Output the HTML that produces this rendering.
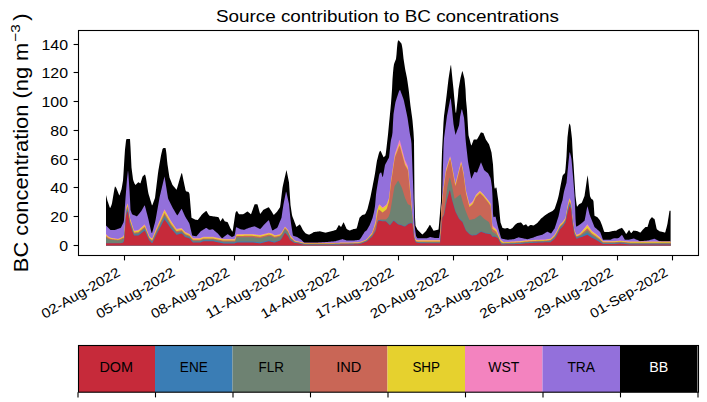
<!DOCTYPE html>
<html><head><meta charset="utf-8"><style>
html,body{margin:0;padding:0;background:#fff;}
svg{display:block;}
text{font-family:"Liberation Sans",sans-serif;}
.tk{font-size:13.89px;}
.xt{font-size:13.6px;}
</style></head><body>
<svg width="707" height="402" viewBox="0 0 707 402">
<rect width="707" height="402" fill="#fff"/>
<g shape-rendering="auto">
<path fill="#000000" d="M106.0,245.5 L106.0,194.90 106.5,196.90 107.0,198.90 107.5,200.90 108.0,202.34 108.5,203.78 109.0,205.23 109.5,206.67 110.0,208.11 110.5,207.40 111.0,206.15 111.5,204.90 112.0,203.30 112.5,200.32 113.0,197.34 113.5,194.35 114.0,191.37 114.5,188.39 115.0,186.15 115.5,186.88 116.0,187.61 116.5,188.45 117.0,189.70 117.5,190.95 118.0,192.20 118.5,193.45 119.0,194.70 119.5,195.40 120.0,193.87 120.5,192.35 121.0,190.83 121.5,189.30 122.0,186.60 122.5,183.60 123.0,180.60 123.5,173.42 124.0,165.20 124.5,156.98 125.0,149.52 125.5,145.14 126.0,140.75 126.5,139.00 127.0,139.00 127.5,139.00 128.0,139.00 128.5,139.00 129.0,139.00 129.5,139.00 130.0,139.00 130.5,147.14 131.0,157.43 131.5,167.58 132.0,171.46 132.5,175.34 133.0,179.22 133.5,181.02 134.0,182.28 134.5,183.45 135.0,184.23 135.5,185.00 136.0,184.48 136.5,183.96 137.0,183.45 137.5,182.93 138.0,182.41 138.5,182.23 139.0,182.57 139.5,182.90 140.0,183.23 140.5,183.18 141.0,181.56 141.5,179.95 142.0,178.34 142.5,176.72 143.0,176.06 143.5,175.64 144.0,175.22 144.5,174.80 145.0,174.38 145.5,176.02 146.0,178.17 146.5,181.29 147.0,184.64 147.5,188.00 148.0,191.36 148.5,193.71 149.0,195.39 149.5,197.07 150.0,198.75 150.5,200.43 151.0,202.11 151.5,203.78 152.0,205.46 152.5,204.72 153.0,203.38 153.5,202.03 154.0,200.69 154.5,199.34 155.0,198.00 155.5,193.86 156.0,189.72 156.5,185.58 157.0,181.44 157.5,177.30 158.0,173.16 158.5,169.79 159.0,166.93 159.5,164.07 160.0,161.21 160.5,158.36 161.0,155.50 161.5,153.33 162.0,151.17 162.5,149.00 163.0,148.38 163.5,148.00 164.0,148.00 164.5,148.00 165.0,148.00 165.5,148.00 166.0,150.50 166.5,154.31 167.0,160.09 167.5,164.43 168.0,167.82 168.5,171.20 169.0,174.59 169.5,177.55 170.0,178.80 170.5,180.05 171.0,181.30 171.5,182.55 172.0,183.80 172.5,184.92 173.0,185.53 173.5,186.14 174.0,186.74 174.5,187.35 175.0,187.96 175.5,188.56 176.0,189.17 176.5,189.78 177.0,188.49 177.5,186.72 178.0,184.95 178.5,183.18 179.0,181.41 179.5,179.68 180.0,178.05 180.5,176.43 181.0,174.80 181.5,173.18 182.0,173.17 182.5,175.59 183.0,178.01 183.5,180.43 184.0,182.81 184.5,185.17 185.0,187.53 185.5,189.89 186.0,191.35 186.5,191.47 187.0,191.59 187.5,191.71 188.0,191.83 188.5,191.95 189.0,192.71 189.5,193.90 190.0,199.85 190.5,205.80 191.0,211.75 191.5,217.70 192.0,217.96 192.5,218.21 193.0,218.47 193.5,218.73 194.0,218.98 194.5,219.24 195.0,219.49 195.5,219.71 196.0,219.77 196.5,219.84 197.0,219.90 197.5,219.96 198.0,219.73 198.5,219.07 199.0,218.41 199.5,217.75 200.0,217.08 200.5,216.42 201.0,215.76 201.5,215.10 202.0,214.43 202.5,213.96 203.0,213.53 203.5,213.10 204.0,212.67 204.5,212.24 205.0,211.81 205.5,211.39 206.0,210.96 206.5,211.04 207.0,211.91 207.5,212.77 208.0,213.63 208.5,214.49 209.0,215.36 209.5,215.75 210.0,215.83 210.5,215.92 211.0,216.00 211.5,216.08 212.0,216.17 212.5,216.25 213.0,216.33 213.5,216.41 214.0,216.48 214.5,216.55 215.0,216.62 215.5,216.69 216.0,216.76 216.5,216.83 217.0,216.90 217.5,216.97 218.0,217.04 218.5,217.30 219.0,218.33 219.5,219.35 220.0,220.38 220.5,221.40 221.0,220.58 221.5,219.76 222.0,218.95 222.5,218.13 223.0,218.31 223.5,219.17 224.0,220.03 224.5,220.89 225.0,221.45 225.5,221.57 226.0,221.70 226.5,221.82 227.0,221.95 227.5,222.07 228.0,222.98 228.5,224.09 229.0,225.19 229.5,226.29 230.0,227.40 230.5,228.50 231.0,229.33 231.5,230.17 232.0,231.00 232.5,231.83 233.0,229.27 233.5,225.86 234.0,222.45 234.5,219.04 235.0,215.63 235.5,212.74 236.0,211.96 236.5,211.17 237.0,211.03 237.5,211.85 238.0,212.66 238.5,213.48 239.0,214.30 239.5,214.30 240.0,214.30 240.5,214.30 241.0,214.30 241.5,214.30 242.0,214.30 242.5,214.30 243.0,214.30 243.5,214.10 244.0,213.76 244.5,213.42 245.0,213.09 245.5,212.75 246.0,212.41 246.5,212.07 247.0,211.74 247.5,211.40 248.0,211.81 248.5,212.23 249.0,212.64 249.5,213.06 250.0,213.47 250.5,213.89 251.0,214.30 251.5,212.91 252.0,211.52 252.5,210.13 253.0,208.74 253.5,207.36 254.0,205.97 254.5,204.58 255.0,204.27 255.5,204.24 256.0,204.20 256.5,204.16 257.0,204.13 257.5,204.46 258.0,206.29 258.5,208.11 259.0,209.93 259.5,211.75 260.0,213.57 260.5,213.86 261.0,213.11 261.5,212.37 262.0,211.63 262.5,210.89 263.0,210.15 263.5,209.80 264.0,209.56 264.5,209.31 265.0,209.07 265.5,208.82 266.0,208.58 266.5,208.33 267.0,208.08 267.5,207.84 268.0,207.59 268.5,207.35 269.0,207.50 269.5,208.25 270.0,209.00 270.5,209.75 271.0,210.50 271.5,211.25 272.0,212.09 272.5,212.94 273.0,213.80 273.5,214.66 274.0,214.70 274.5,214.20 275.0,213.70 275.5,213.20 276.0,212.70 276.5,212.20 277.0,211.70 277.5,211.10 278.0,210.35 278.5,209.60 279.0,208.85 279.5,208.10 280.0,207.35 280.5,203.95 281.0,199.89 281.5,195.83 282.0,191.77 282.5,187.71 283.0,185.16 283.5,182.98 284.0,180.80 284.5,178.62 285.0,176.44 285.5,174.26 286.0,172.08 286.5,169.90 287.0,172.44 287.5,174.98 288.0,177.52 288.5,180.06 289.0,182.60 289.5,190.07 290.0,197.53 290.5,205.00 291.0,208.34 291.5,211.69 292.0,215.03 292.5,216.74 293.0,218.03 293.5,219.33 294.0,220.62 294.5,221.93 295.0,223.27 295.5,224.60 296.0,225.93 296.5,226.92 297.0,226.52 297.5,226.12 298.0,225.72 298.5,225.32 299.0,224.92 299.5,224.52 300.0,224.40 300.5,225.38 301.0,226.36 301.5,227.34 302.0,228.33 302.5,229.31 303.0,230.15 303.5,230.77 304.0,231.40 304.5,232.02 305.0,232.65 305.5,233.27 306.0,233.56 306.5,233.76 307.0,233.96 307.5,234.16 308.0,234.36 308.5,234.56 309.0,234.76 309.5,234.58 310.0,234.30 310.5,234.02 311.0,233.74 311.5,233.46 312.0,233.18 312.5,232.90 313.0,232.62 313.5,232.34 314.0,232.06 314.5,231.95 315.0,231.89 315.5,231.83 316.0,231.77 316.5,231.71 317.0,231.64 317.5,231.58 318.0,231.52 318.5,231.46 319.0,231.40 319.5,231.34 320.0,231.35 320.5,231.47 321.0,231.59 321.5,231.72 322.0,231.84 322.5,231.96 323.0,232.09 323.5,232.21 324.0,232.33 324.5,232.45 325.0,232.58 325.5,232.70 326.0,232.57 326.5,232.45 327.0,232.32 327.5,232.20 328.0,232.07 328.5,231.95 329.0,231.83 329.5,231.70 330.0,231.58 330.5,231.45 331.0,231.33 331.5,231.19 332.0,231.05 332.5,230.91 333.0,230.77 333.5,230.63 334.0,230.49 334.5,230.35 335.0,230.21 335.5,230.07 336.0,229.93 336.5,229.19 337.0,228.29 337.5,227.40 338.0,226.51 338.5,225.61 339.0,225.00 339.5,225.47 340.0,225.95 340.5,226.43 341.0,226.90 341.5,226.22 342.0,225.24 342.5,224.26 343.0,223.28 343.5,222.30 344.0,223.02 344.5,224.16 345.0,225.31 345.5,226.45 346.0,227.60 346.5,228.74 347.0,229.34 347.5,229.59 348.0,229.83 348.5,230.07 349.0,230.31 349.5,230.55 350.0,230.44 350.5,230.24 351.0,230.04 351.5,229.84 352.0,229.64 352.5,229.44 353.0,229.24 353.5,229.12 354.0,229.03 354.5,228.93 355.0,228.83 355.5,228.73 356.0,228.64 356.5,228.54 357.0,227.35 357.5,225.44 358.0,223.53 358.5,221.62 359.0,219.71 359.5,217.80 360.0,217.30 360.5,216.80 361.0,216.30 361.5,215.80 362.0,215.30 362.5,214.95 363.0,214.83 363.5,214.71 364.0,214.59 364.5,214.47 365.0,214.35 365.5,213.61 366.0,212.46 366.5,211.30 367.0,210.15 367.5,209.00 368.0,207.02 368.5,205.04 369.0,203.06 369.5,201.08 370.0,199.10 370.5,196.73 371.0,194.27 371.5,191.79 372.0,189.21 372.5,186.64 373.0,184.06 373.5,181.49 374.0,178.92 374.5,176.34 375.0,173.48 375.5,170.17 376.0,166.86 376.5,163.55 377.0,160.52 377.5,158.63 378.0,156.74 378.5,154.85 379.0,152.96 379.5,151.77 380.0,151.07 380.5,150.72 381.0,151.79 381.5,152.87 382.0,153.95 382.5,155.03 383.0,156.11 383.5,157.18 384.0,157.02 384.5,156.55 385.0,156.07 385.5,155.60 386.0,152.00 386.5,147.63 387.0,143.25 387.5,138.88 388.0,134.50 388.5,129.29 389.0,124.08 389.5,118.95 390.0,113.86 390.5,108.77 391.0,103.35 391.5,96.57 392.0,89.80 392.5,79.30 393.0,72.80 393.5,67.60 394.0,64.35 394.5,62.69 395.0,61.43 395.5,60.17 396.0,58.90 396.5,54.50 397.0,48.00 397.5,43.06 398.0,40.87 398.5,40.30 399.0,40.80 399.5,41.30 400.0,41.80 400.5,42.43 401.0,43.07 401.5,43.70 402.0,46.09 402.5,48.95 403.0,53.67 403.5,58.40 404.0,61.68 404.5,64.96 405.0,68.24 405.5,70.88 406.0,73.36 406.5,75.83 407.0,78.31 407.5,81.40 408.0,84.90 408.5,88.40 409.0,92.58 409.5,97.20 410.0,101.82 410.5,106.03 411.0,109.60 411.5,113.17 412.0,116.74 412.5,120.75 413.0,126.48 413.5,132.21 414.0,141.00 414.5,197.78 415.0,217.22 415.5,225.63 416.0,226.67 416.5,227.72 417.0,228.76 417.5,229.70 418.0,230.20 418.5,230.70 419.0,231.20 419.5,231.70 420.0,232.20 420.5,232.70 421.0,233.20 421.5,233.70 422.0,234.20 422.5,234.50 423.0,234.00 423.5,233.50 424.0,233.00 424.5,232.50 425.0,232.00 425.5,231.50 426.0,231.00 426.5,230.18 427.0,229.36 427.5,228.54 428.0,227.72 428.5,226.90 429.0,226.08 429.5,225.26 430.0,224.77 430.5,225.61 431.0,226.44 431.5,227.28 432.0,228.12 432.5,228.96 433.0,229.79 433.5,230.63 434.0,230.70 434.5,230.58 435.0,230.46 435.5,230.34 436.0,230.22 436.5,230.10 437.0,229.98 437.5,229.86 438.0,229.74 438.5,229.62 439.0,224.83 439.5,218.87 440.0,212.91 440.5,206.95 441.0,200.99 441.5,167.64 442.0,151.77 442.5,141.99 443.0,132.20 443.5,122.41 444.0,116.11 444.5,112.13 445.0,108.14 445.5,104.16 446.0,100.18 446.5,96.19 447.0,91.98 447.5,87.62 448.0,83.26 448.5,78.90 449.0,75.73 449.5,72.57 450.0,69.40 450.5,66.23 451.0,64.71 451.5,69.78 452.0,74.85 452.5,79.85 453.0,84.57 453.5,89.30 454.0,95.00 454.5,100.56 455.0,106.11 455.5,111.67 456.0,113.26 456.5,108.91 457.0,104.57 457.5,100.22 458.0,95.87 458.5,89.30 459.0,86.41 459.5,83.52 460.0,80.63 460.5,78.10 461.0,76.10 461.5,74.10 462.0,72.10 462.5,70.90 463.0,72.90 463.5,74.90 464.0,76.90 464.5,78.90 465.0,84.10 465.5,89.30 466.0,99.80 466.5,105.05 467.0,110.30 467.5,119.09 468.0,127.87 468.5,135.28 469.0,137.20 469.5,139.11 470.0,141.02 470.5,142.94 471.0,144.85 471.5,145.46 472.0,144.10 472.5,142.75 473.0,141.40 473.5,140.04 474.0,139.50 474.5,139.50 475.0,139.50 475.5,139.50 476.0,139.50 476.5,139.50 477.0,139.50 477.5,138.60 478.0,137.70 478.5,136.80 479.0,135.90 479.5,135.00 480.0,134.10 480.5,133.20 481.0,132.30 481.5,132.47 482.0,132.63 482.5,132.80 483.0,132.97 483.5,133.37 484.0,134.70 484.5,136.03 485.0,137.37 485.5,138.70 486.0,139.80 486.5,140.54 487.0,141.28 487.5,142.02 488.0,142.77 488.5,143.51 489.0,144.25 489.5,145.75 490.0,147.44 490.5,149.12 491.0,150.81 491.5,152.50 492.0,156.53 492.5,160.56 493.0,164.59 493.5,173.45 494.0,182.51 494.5,187.58 495.0,189.04 495.5,188.10 496.0,187.16 496.5,188.02 497.0,191.58 497.5,195.14 498.0,198.70 498.5,202.26 499.0,206.62 499.5,212.19 500.0,217.75 500.5,222.48 501.0,223.86 501.5,225.24 502.0,226.62 502.5,228.00 503.0,228.12 503.5,228.24 504.0,228.36 504.5,228.48 505.0,228.60 505.5,228.47 506.0,228.35 506.5,228.22 507.0,228.10 507.5,228.05 508.0,228.29 508.5,228.53 509.0,228.77 509.5,229.01 510.0,229.15 510.5,228.91 511.0,228.67 511.5,228.43 512.0,228.19 512.5,227.88 513.0,227.26 513.5,226.64 514.0,226.02 514.5,225.40 515.0,224.82 515.5,224.44 516.0,224.06 516.5,223.68 517.0,223.30 517.5,222.98 518.0,222.90 518.5,222.82 519.0,222.74 519.5,222.66 520.0,222.58 520.5,222.50 521.0,222.42 521.5,222.90 522.0,223.52 522.5,224.14 523.0,224.76 523.5,225.38 524.0,225.29 524.5,225.03 525.0,224.77 525.5,224.51 526.0,224.25 526.5,224.73 527.0,225.38 527.5,226.04 528.0,226.70 528.5,226.32 529.0,225.95 529.5,225.57 530.0,225.20 530.5,224.92 531.0,225.01 531.5,225.11 532.0,225.20 532.5,225.29 533.0,225.39 533.5,225.48 534.0,225.23 534.5,224.89 535.0,224.55 535.5,224.22 536.0,223.88 536.5,223.54 537.0,223.20 537.5,222.76 538.0,222.17 538.5,221.57 539.0,220.98 539.5,220.38 540.0,219.79 540.5,219.19 541.0,218.60 541.5,218.19 542.0,217.78 542.5,217.38 543.0,216.97 543.5,216.56 544.0,216.15 544.5,215.74 545.0,215.36 545.5,215.03 546.0,214.69 546.5,214.35 547.0,214.01 547.5,213.68 548.0,213.34 548.5,213.00 549.0,212.76 549.5,212.51 550.0,212.27 550.5,212.03 551.0,211.78 551.5,211.54 552.0,211.30 552.5,210.90 553.0,210.40 553.5,209.90 554.0,209.40 554.5,208.90 555.0,207.80 555.5,206.30 556.0,204.80 556.5,203.30 557.0,201.80 557.5,200.09 558.0,198.23 558.5,196.37 559.0,193.91 559.5,191.29 560.0,188.68 560.5,186.06 561.0,183.45 561.5,180.92 562.0,178.46 562.5,175.99 563.0,175.08 563.5,174.57 564.0,174.05 564.5,173.53 565.0,173.01 565.5,168.99 566.0,162.63 566.5,156.27 567.0,145.80 567.5,137.18 568.0,132.88 568.5,128.58 569.0,125.25 569.5,123.38 570.0,124.33 570.5,126.00 571.0,130.30 571.5,134.60 572.0,138.90 572.5,148.96 573.0,157.50 573.5,163.75 574.0,172.00 574.5,180.25 575.0,188.18 575.5,196.10 576.0,199.99 576.5,203.89 577.0,206.87 577.5,206.23 578.0,205.59 578.5,204.94 579.0,204.30 579.5,204.06 580.0,203.82 580.5,203.58 581.0,203.34 581.5,203.10 582.0,202.26 582.5,201.03 583.0,199.80 583.5,198.56 584.0,197.33 584.5,196.10 585.0,192.62 585.5,189.13 586.0,185.65 586.5,182.16 587.0,178.68 587.5,175.20 588.0,178.10 588.5,182.60 589.0,187.10 589.5,191.60 590.0,196.10 590.5,197.14 591.0,198.18 591.5,198.93 592.0,199.27 592.5,199.60 593.0,199.93 593.5,201.61 594.0,208.65 594.5,215.70 595.0,215.95 595.5,216.20 596.0,216.45 596.5,216.70 597.0,216.95 597.5,217.35 598.0,217.97 598.5,218.59 599.0,219.21 599.5,219.83 600.0,220.45 600.5,221.47 601.0,222.76 601.5,224.05 602.0,225.34 602.5,226.76 603.0,228.22 603.5,229.67 604.0,231.13 604.5,232.00 605.0,232.00 605.5,232.00 606.0,232.00 606.5,232.00 607.0,232.00 607.5,232.00 608.0,232.00 608.5,232.00 609.0,231.88 609.5,231.77 610.0,231.65 610.5,231.53 611.0,231.42 611.5,231.30 612.0,231.19 612.5,231.07 613.0,230.98 613.5,230.92 614.0,230.86 614.5,230.81 615.0,230.75 615.5,230.69 616.0,230.63 616.5,230.47 617.0,230.13 617.5,229.80 618.0,229.47 618.5,229.16 619.0,228.97 619.5,228.77 620.0,228.58 620.5,228.38 621.0,228.19 621.5,227.99 622.0,227.80 622.5,228.47 623.0,229.13 623.5,229.80 624.0,230.47 624.5,231.27 625.0,232.10 625.5,232.93 626.0,233.77 626.5,233.67 627.0,232.94 627.5,232.22 628.0,231.49 628.5,230.77 629.0,230.04 629.5,230.57 630.0,231.40 630.5,232.23 631.0,233.07 631.5,233.00 632.0,232.33 632.5,231.67 633.0,231.00 633.5,230.62 634.0,230.68 634.5,230.73 635.0,230.79 635.5,230.84 636.0,230.90 636.5,230.96 637.0,231.05 637.5,231.29 638.0,231.53 638.5,231.78 639.0,232.02 639.5,232.26 640.0,232.51 640.5,232.57 641.0,231.94 641.5,231.30 642.0,230.66 642.5,230.03 643.0,229.49 643.5,228.97 644.0,228.45 644.5,227.93 645.0,227.41 645.5,227.00 646.0,227.00 646.5,227.00 647.0,227.00 647.5,227.00 648.0,225.33 648.5,223.67 649.0,222.00 649.5,220.33 650.0,219.47 650.5,218.81 651.0,218.15 651.5,217.50 652.0,217.25 652.5,217.62 653.0,218.00 653.5,218.38 654.0,218.75 654.5,219.12 655.0,221.10 655.5,223.49 656.0,225.87 656.5,228.25 657.0,229.42 657.5,229.78 658.0,230.14 658.5,230.50 659.0,230.87 659.5,231.23 660.0,231.38 660.5,231.48 661.0,231.58 661.5,231.68 662.0,231.78 662.5,231.88 663.0,231.98 663.5,232.13 664.0,232.30 664.5,232.47 665.0,232.63 665.5,231.54 666.0,229.61 666.5,227.68 667.0,225.75 667.5,223.56 668.0,220.34 668.5,217.13 669.0,213.91 669.5,210.70 670.0,210.70 670.5,210.70 670.6,210.70 L670.6,245.5 Z"/>
<path fill="#9370db" d="M106.0,245.5 L106.0,225.50 106.5,226.01 107.0,226.52 107.5,227.03 108.0,227.55 108.5,228.06 109.0,228.57 109.5,229.08 110.0,229.59 110.5,230.00 111.0,230.00 111.5,230.00 112.0,230.00 112.5,230.00 113.0,230.00 113.5,230.00 114.0,230.00 114.5,230.00 115.0,229.96 115.5,229.78 116.0,229.60 116.5,229.41 117.0,229.23 117.5,229.05 118.0,228.86 118.5,228.68 119.0,228.50 119.5,228.31 120.0,228.13 120.5,227.95 121.0,227.60 121.5,226.60 122.0,225.60 122.5,224.60 123.0,223.60 123.5,222.60 124.0,220.31 124.5,212.84 125.0,205.37 125.5,198.11 126.0,191.64 126.5,185.17 127.0,179.11 127.5,174.65 128.0,170.19 128.5,175.35 129.0,182.91 129.5,190.46 130.0,199.29 130.5,210.00 131.0,211.34 131.5,212.69 132.0,214.03 132.5,214.48 133.0,214.69 133.5,214.91 134.0,215.13 134.5,215.35 135.0,215.57 135.5,215.79 136.0,216.01 136.5,216.22 137.0,216.28 137.5,215.69 138.0,215.09 138.5,214.50 139.0,213.90 139.5,213.30 140.0,212.71 140.5,212.11 141.0,211.52 141.5,210.69 142.0,209.80 142.5,208.91 143.0,208.02 143.5,207.13 144.0,206.24 144.5,205.36 145.0,206.16 145.5,208.09 146.0,210.01 146.5,211.94 147.0,213.87 147.5,215.80 148.0,217.73 148.5,219.80 149.0,221.97 149.5,224.13 150.0,226.30 150.5,228.47 151.0,230.63 151.5,232.80 152.0,233.37 152.5,231.56 153.0,229.75 153.5,227.93 154.0,226.12 154.5,224.30 155.0,222.49 155.5,220.28 156.0,217.48 156.5,214.67 157.0,211.87 157.5,209.07 158.0,206.27 158.5,203.47 159.0,200.66 159.5,197.86 160.0,195.59 160.5,193.46 161.0,191.33 161.5,189.20 162.0,187.06 162.5,184.93 163.0,182.80 163.5,180.67 164.0,178.53 164.5,176.40 165.0,179.50 165.5,182.59 166.0,185.69 166.5,188.79 167.0,191.89 167.5,194.98 168.0,198.08 168.5,199.51 169.0,200.52 169.5,201.53 170.0,202.55 170.5,203.56 171.0,204.57 171.5,205.58 172.0,206.59 172.5,207.54 173.0,208.39 173.5,209.24 174.0,210.09 174.5,210.94 175.0,211.79 175.5,212.64 176.0,213.49 176.5,214.34 177.0,215.19 177.5,215.37 178.0,214.54 178.5,213.72 179.0,212.89 179.5,212.07 180.0,211.24 180.5,210.42 181.0,209.59 181.5,208.77 182.0,209.49 182.5,210.61 183.0,211.72 183.5,212.83 184.0,213.95 184.5,215.06 185.0,216.18 185.5,217.06 186.0,217.89 186.5,218.71 187.0,219.54 187.5,220.36 188.0,221.19 188.5,222.01 189.0,222.84 189.5,223.93 190.0,226.09 190.5,228.25 191.0,230.41 191.5,232.58 192.0,234.74 192.5,235.65 193.0,235.73 193.5,235.81 194.0,235.89 194.5,235.97 195.0,236.06 195.5,236.14 196.0,236.22 196.5,236.30 197.0,235.70 197.5,235.11 198.0,234.51 198.5,233.92 199.0,233.32 199.5,232.73 200.0,232.13 200.5,231.54 201.0,231.11 201.5,230.80 202.0,230.49 202.5,230.18 203.0,229.86 203.5,229.55 204.0,229.24 204.5,228.93 205.0,228.61 205.5,228.30 206.0,227.99 206.5,227.94 207.0,228.31 207.5,228.67 208.0,229.03 208.5,229.39 209.0,229.76 209.5,229.84 210.0,229.74 210.5,229.64 211.0,229.54 211.5,229.44 212.0,229.34 212.5,229.24 213.0,229.45 213.5,229.87 214.0,230.29 214.5,230.71 215.0,231.13 215.5,231.55 216.0,231.97 216.5,232.39 217.0,232.81 217.5,233.23 218.0,233.75 218.5,234.33 219.0,234.91 219.5,235.49 220.0,236.07 220.5,236.66 221.0,237.24 221.5,237.82 222.0,238.40 222.5,238.02 223.0,237.63 223.5,237.25 224.0,236.86 224.5,236.48 225.0,236.10 225.5,235.71 226.0,235.33 226.5,234.94 227.0,234.56 227.5,234.18 228.0,234.37 228.5,234.71 229.0,235.04 229.5,235.38 230.0,235.72 230.5,236.06 231.0,236.39 231.5,236.73 232.0,236.95 232.5,236.70 233.0,236.45 233.5,236.20 234.0,235.95 234.5,235.70 235.0,233.76 235.5,230.69 236.0,227.61 236.5,227.20 237.0,227.46 237.5,227.72 238.0,227.97 238.5,228.23 239.0,228.48 239.5,228.74 240.0,229.00 240.5,229.22 241.0,229.32 241.5,229.42 242.0,229.52 242.5,229.62 243.0,229.72 243.5,229.82 244.0,229.86 244.5,229.65 245.0,229.44 245.5,229.23 246.0,229.02 246.5,228.81 247.0,228.60 247.5,228.39 248.0,228.18 248.5,227.97 249.0,227.77 249.5,227.64 250.0,227.51 250.5,227.38 251.0,227.25 251.5,227.12 252.0,226.98 252.5,226.85 253.0,226.72 253.5,226.59 254.0,226.46 254.5,226.33 255.0,226.51 255.5,226.77 256.0,227.03 256.5,227.28 257.0,227.54 257.5,227.80 258.0,228.06 258.5,228.32 259.0,228.58 259.5,228.84 260.0,229.10 260.5,228.85 261.0,228.27 261.5,227.69 262.0,227.11 262.5,226.53 263.0,225.94 263.5,225.36 264.0,224.78 264.5,224.20 265.0,223.71 265.5,223.22 266.0,222.73 266.5,222.25 267.0,221.76 267.5,221.27 268.0,220.78 268.5,220.29 269.0,220.61 269.5,222.12 270.0,223.63 270.5,225.15 271.0,226.66 271.5,228.18 272.0,229.69 272.5,230.49 273.0,230.21 273.5,229.93 274.0,229.65 274.5,229.37 275.0,229.09 275.5,228.81 276.0,228.53 276.5,228.25 277.0,227.97 277.5,227.32 278.0,226.13 278.5,224.94 279.0,223.75 279.5,222.56 280.0,221.37 280.5,220.18 281.0,218.99 281.5,217.80 282.0,214.33 282.5,210.86 283.0,207.38 283.5,204.29 284.0,201.75 284.5,199.21 285.0,196.68 285.5,194.14 286.0,191.61 286.5,192.87 287.0,195.07 287.5,197.28 288.0,199.49 288.5,201.69 289.0,203.90 289.5,209.05 290.0,214.19 290.5,219.34 291.0,223.34 291.5,226.56 292.0,229.79 292.5,233.02 293.0,235.63 293.5,235.80 294.0,235.97 294.5,236.13 295.0,236.30 295.5,236.47 296.0,236.63 296.5,236.80 297.0,236.97 297.5,237.27 298.0,237.60 298.5,237.93 299.0,238.27 299.5,238.60 300.0,238.93 300.5,239.27 301.0,239.60 301.5,239.99 302.0,240.48 302.5,240.96 303.0,241.44 303.5,241.92 304.0,242.41 304.5,242.63 305.0,242.69 305.5,242.75 306.0,242.80 306.5,242.80 307.0,242.80 307.5,242.80 308.0,242.80 308.5,242.80 309.0,242.80 309.5,242.80 310.0,242.80 310.5,242.80 311.0,242.80 311.5,242.80 312.0,242.80 312.5,242.80 313.0,242.80 313.5,242.80 314.0,242.80 314.5,242.80 315.0,242.80 315.5,242.80 316.0,242.80 316.5,242.80 317.0,242.76 317.5,242.70 318.0,242.65 318.5,242.59 319.0,242.56 319.5,242.52 320.0,242.49 320.5,242.45 321.0,242.42 321.5,242.38 322.0,242.35 322.5,242.31 323.0,242.28 323.5,242.24 324.0,242.20 324.5,242.17 325.0,242.13 325.5,242.10 326.0,242.06 326.5,242.03 327.0,241.99 327.5,241.94 328.0,241.90 328.5,241.85 329.0,241.80 329.5,241.76 330.0,241.71 330.5,241.66 331.0,241.61 331.5,241.57 332.0,241.52 332.5,241.47 333.0,241.43 333.5,241.38 334.0,241.33 334.5,241.28 335.0,241.24 335.5,241.17 336.0,241.02 336.5,240.87 337.0,240.73 337.5,240.58 338.0,240.43 338.5,240.28 339.0,240.14 339.5,239.99 340.0,239.84 340.5,239.69 341.0,239.54 341.5,239.40 342.0,239.25 342.5,239.10 343.0,239.27 343.5,239.43 344.0,239.60 344.5,239.77 345.0,239.93 345.5,240.10 346.0,240.27 346.5,240.43 347.0,240.50 347.5,240.50 348.0,240.50 348.5,240.50 349.0,240.50 349.5,240.50 350.0,240.50 350.5,240.50 351.0,240.50 351.5,240.50 352.0,240.50 352.5,240.50 353.0,240.50 353.5,240.50 354.0,240.48 354.5,240.41 355.0,240.35 355.5,240.29 356.0,240.23 356.5,240.17 357.0,240.11 357.5,240.05 358.0,239.98 358.5,239.92 359.0,239.86 359.5,239.80 360.0,239.12 360.5,238.45 361.0,237.77 361.5,237.01 362.0,236.18 362.5,235.36 363.0,234.54 363.5,233.71 364.0,232.89 364.5,232.06 365.0,231.59 365.5,231.20 366.0,230.82 366.5,230.43 367.0,229.84 367.5,228.95 368.0,228.06 368.5,227.16 369.0,226.27 369.5,225.38 370.0,224.23 370.5,223.01 371.0,221.80 371.5,220.59 372.0,219.37 372.5,218.01 373.0,216.04 373.5,214.06 374.0,212.09 374.5,209.26 375.0,206.22 375.5,200.50 376.0,194.50 376.5,190.75 377.0,187.63 377.5,184.67 378.0,181.70 378.5,178.74 379.0,175.78 379.5,173.79 380.0,173.26 380.5,172.74 381.0,172.21 381.5,173.20 382.0,175.20 382.5,177.20 383.0,176.30 383.5,173.48 384.0,170.65 384.5,167.83 385.0,165.00 385.5,164.06 386.0,163.12 386.5,162.18 387.0,161.24 387.5,160.30 388.0,159.37 388.5,158.43 389.0,157.49 389.5,153.28 390.0,148.24 390.5,143.21 391.0,140.02 391.5,138.05 392.0,136.08 392.5,132.51 393.0,122.56 393.5,113.98 394.0,110.88 394.5,107.78 395.0,104.68 395.5,101.90 396.0,100.38 396.5,98.87 397.0,97.36 397.5,95.84 398.0,94.33 398.5,92.82 399.0,91.30 399.5,90.42 400.0,89.70 400.5,91.05 401.0,92.40 401.5,93.75 402.0,95.11 402.5,96.46 403.0,97.81 403.5,99.16 404.0,101.10 404.5,103.44 405.0,105.78 405.5,108.12 406.0,110.45 406.5,112.79 407.0,115.13 407.5,117.67 408.0,121.04 408.5,124.40 409.0,127.77 409.5,131.13 410.0,134.50 410.5,136.89 411.0,139.29 411.5,143.75 412.0,156.48 412.5,169.22 413.0,181.96 413.5,195.50 414.0,210.25 414.5,225.00 415.0,228.67 415.5,232.33 416.0,236.00 416.5,236.82 417.0,237.64 417.5,238.30 418.0,238.30 418.5,238.30 419.0,238.30 419.5,238.30 420.0,238.30 420.5,238.30 421.0,238.30 421.5,238.30 422.0,238.30 422.5,238.30 423.0,238.30 423.5,238.30 424.0,238.30 424.5,238.30 425.0,238.30 425.5,238.30 426.0,238.30 426.5,238.30 427.0,238.30 427.5,238.08 428.0,237.87 428.5,237.65 429.0,237.43 429.5,237.22 430.0,237.00 430.5,237.10 431.0,237.20 431.5,237.30 432.0,237.40 432.5,237.50 433.0,237.60 433.5,237.70 434.0,237.80 434.5,237.90 435.0,238.00 435.5,238.00 436.0,238.00 436.5,238.00 437.0,238.00 437.5,238.00 438.0,238.00 438.5,238.00 439.0,238.00 439.5,234.75 440.0,231.50 440.5,228.25 441.0,218.33 441.5,207.50 442.0,200.00 442.5,182.47 443.0,164.94 443.5,147.41 444.0,138.16 444.5,134.44 445.0,130.71 445.5,126.98 446.0,123.25 446.5,119.53 447.0,115.80 447.5,113.22 448.0,110.63 448.5,108.05 449.0,105.47 449.5,102.88 450.0,100.30 450.5,97.72 451.0,100.59 451.5,104.82 452.0,109.05 452.5,113.90 453.0,118.90 453.5,123.90 454.0,127.01 454.5,129.64 455.0,132.27 455.5,134.90 456.0,133.55 456.5,132.20 457.0,130.85 457.5,129.49 458.0,128.14 458.5,126.79 459.0,125.44 459.5,121.69 460.0,116.93 460.5,114.56 461.0,112.19 461.5,109.82 462.0,109.24 462.5,111.35 463.0,113.45 463.5,115.55 464.0,117.66 464.5,123.04 465.0,130.61 465.5,138.17 466.0,143.83 466.5,148.20 467.0,152.57 467.5,156.95 468.0,161.32 468.5,164.31 469.0,166.95 469.5,169.59 470.0,172.23 470.5,174.87 471.0,177.52 471.5,178.64 472.0,177.50 472.5,176.36 473.0,175.22 473.5,174.08 474.0,172.94 474.5,171.80 475.0,171.98 475.5,172.16 476.0,172.34 476.5,172.52 477.0,172.70 477.5,171.39 478.0,170.07 478.5,168.76 479.0,167.45 479.5,166.14 480.0,164.82 480.5,163.51 481.0,162.20 481.5,163.45 482.0,164.70 482.5,165.95 483.0,167.20 483.5,168.45 484.0,169.70 484.5,170.44 485.0,170.84 485.5,171.25 486.0,171.65 486.5,172.05 487.0,172.45 487.5,172.86 488.0,173.26 488.5,173.90 489.0,174.90 489.5,175.90 490.0,176.90 490.5,177.90 491.0,180.42 491.5,183.95 492.0,187.48 492.5,196.52 493.0,213.84 493.5,217.17 494.0,217.00 494.5,216.83 495.0,216.67 495.5,216.50 496.0,218.60 496.5,220.70 497.0,222.80 497.5,224.90 498.0,227.00 498.5,228.80 499.0,230.59 499.5,232.39 500.0,234.19 500.5,235.98 501.0,237.78 501.5,238.56 502.0,238.67 502.5,238.77 503.0,238.88 503.5,238.98 504.0,239.09 504.5,239.19 505.0,239.30 505.5,239.40 506.0,239.51 506.5,239.61 507.0,239.72 507.5,239.79 508.0,239.74 508.5,239.70 509.0,239.65 509.5,239.60 510.0,239.55 510.5,239.50 511.0,239.46 511.5,239.41 512.0,239.36 512.5,239.31 513.0,239.27 513.5,239.22 514.0,239.08 514.5,238.89 515.0,238.70 515.5,238.50 516.0,238.31 516.5,238.11 517.0,237.92 517.5,237.73 518.0,237.53 518.5,237.34 519.0,237.40 519.5,237.52 520.0,237.64 520.5,237.76 521.0,237.88 521.5,238.00 522.0,238.12 522.5,238.24 523.0,238.36 523.5,238.48 524.0,238.58 524.5,238.67 525.0,238.76 525.5,238.86 526.0,238.95 526.5,239.05 527.0,239.14 527.5,239.15 528.0,239.02 528.5,238.89 529.0,238.76 529.5,238.63 530.0,238.50 530.5,238.37 531.0,238.24 531.5,238.11 532.0,237.98 532.5,237.82 533.0,237.63 533.5,237.44 534.0,237.25 534.5,237.06 535.0,236.87 535.5,236.68 536.0,236.49 536.5,236.30 537.0,236.11 537.5,235.95 538.0,235.83 538.5,235.71 539.0,235.59 539.5,235.47 540.0,235.35 540.5,235.23 541.0,235.11 541.5,234.99 542.0,234.87 542.5,234.67 543.0,234.36 543.5,234.04 544.0,233.72 544.5,233.41 545.0,233.09 545.5,232.78 546.0,232.46 546.5,232.14 547.0,231.83 547.5,231.85 548.0,232.10 548.5,232.35 549.0,232.60 549.5,232.85 550.0,233.10 550.5,233.35 551.0,233.60 551.5,232.89 552.0,232.18 552.5,231.48 553.0,230.77 553.5,230.06 554.0,229.35 554.5,228.64 555.0,227.27 555.5,225.73 556.0,224.19 556.5,222.65 557.0,221.12 557.5,219.58 558.0,218.04 558.5,216.50 559.0,214.20 559.5,211.90 560.0,209.60 560.5,207.30 561.0,205.00 561.5,203.40 562.0,201.80 562.5,200.20 563.0,197.27 563.5,194.34 564.0,191.64 564.5,189.87 565.0,188.09 565.5,186.31 566.0,184.53 566.5,182.76 567.0,178.05 567.5,172.61 568.0,167.18 568.5,162.09 569.0,157.23 569.5,152.37 570.0,152.87 570.5,154.70 571.0,156.53 571.5,159.16 572.0,164.97 572.5,170.78 573.0,176.59 573.5,182.40 574.0,188.76 574.5,195.11 575.0,204.08 575.5,218.53 576.0,225.59 576.5,226.73 577.0,226.40 577.5,226.07 578.0,225.73 578.5,225.40 579.0,225.07 579.5,224.73 580.0,224.40 580.5,224.04 581.0,223.63 581.5,223.22 582.0,222.82 582.5,222.41 583.0,222.00 583.5,221.60 584.0,221.19 584.5,220.78 585.0,218.57 585.5,215.91 586.0,213.25 586.5,210.59 587.0,207.93 587.5,206.20 588.0,208.23 588.5,210.25 589.0,212.28 589.5,214.30 590.0,215.60 590.5,216.89 591.0,218.19 591.5,219.48 592.0,220.75 592.5,222.00 593.0,223.25 593.5,224.50 594.0,225.75 594.5,227.00 595.0,227.44 595.5,227.88 596.0,228.32 596.5,228.75 597.0,229.19 597.5,229.63 598.0,230.07 598.5,230.51 599.0,230.95 599.5,231.39 600.0,231.82 600.5,232.84 601.0,234.23 601.5,235.62 602.0,237.01 602.5,238.41 603.0,239.80 603.5,239.80 604.0,239.80 604.5,239.80 605.0,239.80 605.5,239.80 606.0,239.80 606.5,239.80 607.0,239.80 607.5,239.80 608.0,239.80 608.5,239.80 609.0,239.80 609.5,239.80 610.0,239.80 610.5,239.63 611.0,239.43 611.5,239.22 612.0,239.01 612.5,238.80 613.0,238.60 613.5,238.39 614.0,238.18 614.5,238.13 615.0,238.18 615.5,238.23 616.0,238.28 616.5,238.33 617.0,238.38 617.5,238.29 618.0,238.11 618.5,237.92 619.0,237.74 619.5,237.30 620.0,236.80 620.5,236.30 621.0,235.80 621.5,235.30 622.0,234.80 622.5,235.69 623.0,236.59 623.5,237.48 624.0,238.37 624.5,239.26 625.0,239.80 625.5,239.80 626.0,239.80 626.5,239.80 627.0,239.80 627.5,239.80 628.0,239.80 628.5,239.78 629.0,239.65 629.5,239.53 630.0,239.40 630.5,239.28 631.0,239.15 631.5,239.03 632.0,238.90 632.5,238.78 633.0,238.65 633.5,238.53 634.0,238.40 634.5,238.65 635.0,238.89 635.5,239.14 636.0,239.38 636.5,239.63 637.0,239.87 637.5,240.12 638.0,240.36 638.5,240.61 639.0,240.86 639.5,241.10 640.0,241.18 640.5,241.13 641.0,241.09 641.5,241.05 642.0,241.01 642.5,240.97 643.0,240.93 643.5,240.89 644.0,240.85 644.5,240.80 645.0,240.76 645.5,240.72 646.0,240.68 646.5,240.64 647.0,240.60 647.5,240.56 648.0,240.52 648.5,240.42 649.0,240.28 649.5,240.13 650.0,239.99 650.5,239.85 651.0,239.71 651.5,239.57 652.0,239.43 652.5,239.29 653.0,239.15 653.5,239.01 654.0,238.87 654.5,238.73 655.0,238.90 655.5,239.15 656.0,239.40 656.5,239.65 657.0,239.90 657.5,240.15 658.0,240.40 658.5,240.65 659.0,240.90 659.5,241.15 660.0,241.25 660.5,241.30 661.0,241.36 661.5,241.41 662.0,241.47 662.5,241.50 663.0,241.50 663.5,241.50 664.0,241.50 664.5,241.50 665.0,241.50 665.5,241.50 666.0,241.50 666.5,241.50 667.0,241.50 667.5,241.50 668.0,241.50 668.5,241.50 669.0,241.50 669.5,241.43 670.0,241.32 670.5,241.22 670.6,241.20 L670.6,245.5 Z"/>
<path fill="#f383bf" d="M106.0,245.5 L106.0,233.90 106.5,234.50 107.0,235.10 107.5,235.70 108.0,236.30 108.5,236.55 109.0,236.80 109.5,237.05 110.0,237.30 110.5,237.55 111.0,237.80 111.5,237.87 112.0,237.94 112.5,238.01 113.0,238.09 113.5,238.16 114.0,238.23 114.5,238.30 115.0,238.37 115.5,238.44 116.0,238.51 116.5,238.59 117.0,238.66 117.5,238.73 118.0,238.80 118.5,238.64 119.0,238.48 119.5,238.31 120.0,238.15 120.5,237.88 121.0,237.61 121.5,237.34 122.0,237.08 122.5,236.78 123.0,236.48 123.5,235.70 124.0,234.21 124.5,230.46 125.0,223.32 125.5,216.18 126.0,209.05 126.5,206.39 127.0,204.85 127.5,203.31 128.0,204.77 128.5,208.22 129.0,211.68 129.5,215.13 130.0,217.84 130.5,219.43 131.0,221.03 131.5,222.62 132.0,224.22 132.5,225.81 133.0,227.41 133.5,229.00 134.0,230.60 134.5,230.54 135.0,230.47 135.5,230.41 136.0,230.35 136.5,230.28 137.0,230.22 137.5,230.15 138.0,230.09 138.5,229.87 139.0,229.42 139.5,228.96 140.0,228.51 140.5,228.05 141.0,227.60 141.5,227.15 142.0,226.69 142.5,226.24 143.0,225.78 143.5,225.33 144.0,224.87 144.5,224.42 145.0,224.86 145.5,226.19 146.0,227.53 146.5,228.86 147.0,230.20 147.5,231.53 148.0,232.87 148.5,234.20 149.0,235.43 149.5,236.21 150.0,237.00 150.5,237.34 151.0,237.68 151.5,238.02 152.0,238.35 152.5,237.75 153.0,236.51 153.5,235.27 154.0,234.02 154.5,232.78 155.0,231.54 155.5,230.30 156.0,229.06 156.5,227.82 157.0,226.63 157.5,225.47 158.0,224.31 158.5,223.14 159.0,221.98 159.5,220.82 160.0,219.66 160.5,218.50 161.0,217.33 161.5,216.17 162.0,215.01 162.5,213.85 163.0,212.69 163.5,211.52 164.0,210.36 164.5,209.20 165.0,210.10 165.5,211.00 166.0,211.90 166.5,212.80 167.0,213.70 167.5,214.60 168.0,215.50 168.5,216.40 169.0,217.30 169.5,218.20 170.0,219.11 170.5,220.01 171.0,220.87 171.5,221.60 172.0,222.32 172.5,223.05 173.0,223.78 173.5,224.50 174.0,225.23 174.5,225.96 175.0,226.68 175.5,227.41 176.0,228.14 176.5,228.74 177.0,228.80 177.5,228.71 178.0,228.62 178.5,228.54 179.0,228.45 179.5,228.36 180.0,228.28 180.5,228.19 181.0,228.10 181.5,228.02 182.0,228.45 182.5,229.02 183.0,229.59 183.5,230.16 184.0,230.73 184.5,231.29 185.0,231.86 185.5,232.15 186.0,232.36 186.5,232.58 187.0,232.80 187.5,233.01 188.0,233.23 188.5,233.45 189.0,233.66 189.5,233.97 190.0,234.62 190.5,235.22 191.0,235.82 191.5,236.42 192.0,237.02 192.5,237.62 193.0,238.10 193.5,238.10 194.0,238.10 194.5,238.10 195.0,238.10 195.5,238.10 196.0,238.10 196.5,238.10 197.0,238.10 197.5,238.10 198.0,238.10 198.5,238.10 199.0,238.10 199.5,238.10 200.0,238.10 200.5,237.90 201.0,237.70 201.5,237.50 202.0,237.30 202.5,237.10 203.0,236.90 203.5,236.70 204.0,236.70 204.5,236.70 205.0,236.70 205.5,236.70 206.0,236.70 206.5,236.70 207.0,236.70 207.5,236.70 208.0,236.70 208.5,236.70 209.0,236.70 209.5,236.70 210.0,236.70 210.5,236.70 211.0,236.70 211.5,236.70 212.0,236.70 212.5,236.70 213.0,236.76 213.5,236.86 214.0,236.97 214.5,237.07 215.0,237.17 215.5,237.28 216.0,237.38 216.5,237.48 217.0,237.58 217.5,237.69 218.0,237.79 218.5,237.89 219.0,238.00 219.5,238.10 220.0,238.20 220.5,238.30 221.0,238.41 221.5,238.51 222.0,238.61 222.5,238.71 223.0,238.82 223.5,238.90 224.0,238.90 224.5,238.90 225.0,238.90 225.5,238.90 226.0,238.90 226.5,238.90 227.0,238.90 227.5,238.90 228.0,238.90 228.5,238.90 229.0,238.90 229.5,238.90 230.0,238.90 230.5,238.90 231.0,238.90 231.5,238.90 232.0,238.90 232.5,238.90 233.0,238.90 233.5,238.90 234.0,238.90 234.5,238.90 235.0,238.79 235.5,237.26 236.0,235.74 236.5,234.21 237.0,234.10 237.5,234.09 238.0,234.08 238.5,234.08 239.0,234.07 239.5,234.06 240.0,234.06 240.5,234.05 241.0,234.04 241.5,234.04 242.0,234.03 242.5,234.02 243.0,234.02 243.5,234.01 244.0,234.00 244.5,234.00 245.0,233.99 245.5,233.98 246.0,233.98 246.5,233.97 247.0,233.96 247.5,233.96 248.0,233.95 248.5,233.94 249.0,233.94 249.5,233.93 250.0,233.92 250.5,233.92 251.0,233.91 251.5,233.90 252.0,233.94 252.5,233.99 253.0,234.05 253.5,234.11 254.0,234.17 254.5,234.23 255.0,234.29 255.5,234.35 256.0,234.41 256.5,234.46 257.0,234.52 257.5,234.58 258.0,234.64 258.5,234.70 259.0,234.76 259.5,234.82 260.0,234.88 260.5,234.82 261.0,234.70 261.5,234.57 262.0,234.44 262.5,234.31 263.0,234.18 263.5,234.06 264.0,233.93 264.5,233.80 265.0,233.67 265.5,233.54 266.0,233.42 266.5,233.29 267.0,233.16 267.5,233.03 268.0,232.90 268.5,232.78 269.0,232.75 269.5,232.88 270.0,233.00 270.5,233.12 271.0,233.25 271.5,233.38 272.0,233.50 272.5,233.81 273.0,234.12 273.5,234.44 274.0,234.75 274.5,235.00 275.0,235.00 275.5,235.01 276.0,235.01 276.5,234.91 277.0,234.81 277.5,234.71 278.0,234.61 278.5,234.51 279.0,234.41 279.5,234.30 280.0,234.20 280.5,233.72 281.0,233.15 281.5,232.57 282.0,232.00 282.5,231.10 283.0,230.20 283.5,229.30 284.0,228.40 284.5,227.50 285.0,226.60 285.5,227.17 286.0,227.73 286.5,228.30 287.0,228.87 287.5,229.43 288.0,230.00 288.5,231.25 289.0,232.50 289.5,233.75 290.0,235.00 290.5,235.59 291.0,236.17 291.5,236.76 292.0,237.35 292.5,237.94 293.0,238.52 293.5,239.11 294.0,239.70 294.5,240.17 295.0,240.48 295.5,240.79 296.0,241.10 296.5,241.16 297.0,241.22 297.5,241.28 298.0,241.34 298.5,241.40 299.0,241.52 299.5,241.65 300.0,241.77 300.5,241.89 301.0,242.01 301.5,242.14 302.0,242.26 302.5,242.38 303.0,242.51 303.5,242.63 304.0,242.75 304.5,242.80 305.0,242.80 305.5,242.80 306.0,242.80 306.5,242.80 307.0,242.80 307.5,242.80 308.0,242.80 308.5,242.80 309.0,242.80 309.5,242.80 310.0,242.80 310.5,242.80 311.0,242.80 311.5,242.80 312.0,242.80 312.5,242.80 313.0,242.80 313.5,242.80 314.0,242.80 314.5,242.80 315.0,242.80 315.5,242.80 316.0,242.80 316.5,242.80 317.0,242.80 317.5,242.80 318.0,242.80 318.5,242.80 319.0,242.80 319.5,242.80 320.0,242.80 320.5,242.80 321.0,242.80 321.5,242.80 322.0,242.80 322.5,242.80 323.0,242.80 323.5,242.80 324.0,242.80 324.5,242.80 325.0,242.80 325.5,242.80 326.0,242.80 326.5,242.80 327.0,242.80 327.5,242.80 328.0,242.80 328.5,242.80 329.0,242.80 329.5,242.80 330.0,242.80 330.5,242.79 331.0,242.78 331.5,242.77 332.0,242.76 332.5,242.76 333.0,242.75 333.5,242.74 334.0,242.73 334.5,242.72 335.0,242.71 335.5,242.70 336.0,242.69 336.5,242.68 337.0,242.68 337.5,242.67 338.0,242.66 338.5,242.65 339.0,242.64 339.5,242.63 340.0,242.62 340.5,242.61 341.0,242.60 341.5,242.60 342.0,242.59 342.5,242.58 343.0,242.57 343.5,242.56 344.0,242.55 344.5,242.54 345.0,242.53 345.5,242.52 346.0,242.52 346.5,242.51 347.0,242.50 347.5,242.49 348.0,242.48 348.5,242.47 349.0,242.46 349.5,242.45 350.0,242.44 350.5,242.44 351.0,242.43 351.5,242.42 352.0,242.41 352.5,242.40 353.0,242.39 353.5,242.38 354.0,242.37 354.5,242.36 355.0,242.36 355.5,242.35 356.0,242.34 356.5,242.33 357.0,242.32 357.5,242.31 358.0,242.30 358.5,242.21 359.0,242.10 359.5,241.98 360.0,241.87 360.5,241.76 361.0,241.65 361.5,241.48 362.0,241.29 362.5,241.09 363.0,240.89 363.5,240.70 364.0,240.50 364.5,240.30 365.0,240.11 365.5,239.91 366.0,239.71 366.5,239.35 367.0,238.89 367.5,238.28 368.0,237.66 368.5,237.05 369.0,236.44 369.5,235.82 370.0,235.21 370.5,234.60 371.0,233.98 371.5,233.37 372.0,233.00 372.5,231.67 373.0,230.33 373.5,228.76 374.0,227.18 374.5,225.56 375.0,223.27 375.5,220.98 376.0,218.16 376.5,214.57 377.0,211.00 377.5,209.37 378.0,207.44 378.5,205.50 379.0,204.78 379.5,204.30 380.0,204.80 380.5,205.30 381.0,205.80 381.5,206.30 382.0,206.80 382.5,207.30 383.0,207.09 383.5,206.70 384.0,206.31 384.5,205.92 385.0,205.53 385.5,205.14 386.0,204.75 386.5,204.36 387.0,203.36 387.5,201.97 388.0,200.57 388.5,199.18 389.0,197.78 389.5,193.75 390.0,189.06 390.5,184.37 391.0,180.43 391.5,176.98 392.0,173.52 392.5,170.07 393.0,166.62 393.5,163.17 394.0,159.71 394.5,156.26 395.0,153.20 395.5,151.71 396.0,150.22 396.5,148.73 397.0,147.24 397.5,145.76 398.0,144.27 398.5,142.78 399.0,141.29 399.5,139.80 400.0,141.02 400.5,142.92 401.0,144.81 401.5,146.71 402.0,148.61 402.5,150.51 403.0,152.41 403.5,154.31 404.0,156.20 404.5,158.10 405.0,160.00 405.5,161.03 406.0,162.07 406.5,163.10 407.0,164.14 407.5,165.17 408.0,167.02 408.5,172.10 409.0,177.18 409.5,182.27 410.0,187.35 410.5,192.43 411.0,197.93 411.5,205.10 412.0,212.27 412.5,218.50 413.0,222.09 413.5,225.50 414.0,231.00 414.5,236.50 415.0,237.60 415.5,238.70 416.0,239.80 416.5,239.83 417.0,239.85 417.5,239.88 418.0,239.90 418.5,239.93 419.0,239.95 419.5,239.97 420.0,240.00 420.5,240.00 421.0,240.00 421.5,240.00 422.0,240.00 422.5,240.00 423.0,240.00 423.5,240.00 424.0,240.00 424.5,240.00 425.0,240.00 425.5,240.00 426.0,240.00 426.5,240.00 427.0,240.00 427.5,240.00 428.0,240.00 428.5,240.00 429.0,240.00 429.5,240.00 430.0,240.00 430.5,240.00 431.0,240.00 431.5,240.00 432.0,240.00 432.5,240.00 433.0,240.00 433.5,240.00 434.0,240.00 434.5,240.00 435.0,240.00 435.5,240.00 436.0,240.00 436.5,240.00 437.0,240.00 437.5,240.00 438.0,240.00 438.5,240.00 439.0,240.00 439.5,240.00 440.0,240.00 440.5,229.17 441.0,218.33 441.5,207.50 442.0,202.35 442.5,197.21 443.0,192.06 443.5,187.75 444.0,184.00 444.5,180.25 445.0,176.50 445.5,172.75 446.0,169.00 446.5,167.39 447.0,165.79 447.5,164.18 448.0,162.57 448.5,160.96 449.0,159.36 449.5,157.75 450.0,156.14 450.5,157.12 451.0,159.81 451.5,162.50 452.0,165.19 452.5,167.88 453.0,170.58 453.5,173.27 454.0,175.96 454.5,178.65 455.0,181.35 455.5,183.10 456.0,181.12 456.5,179.14 457.0,177.16 457.5,175.17 458.0,173.19 458.5,171.21 459.0,169.22 459.5,167.24 460.0,165.26 460.5,163.28 461.0,161.29 461.5,162.00 462.0,164.50 462.5,167.00 463.0,169.50 463.5,172.00 464.0,175.75 464.5,179.50 465.0,183.25 465.5,187.00 466.0,190.40 466.5,192.40 467.0,194.40 467.5,196.40 468.0,198.40 468.5,200.40 469.0,202.40 469.5,203.91 470.0,203.47 470.5,203.03 471.0,202.59 471.5,202.15 472.0,201.71 472.5,201.26 473.0,200.59 473.5,199.58 474.0,198.56 474.5,197.55 475.0,196.53 475.5,195.51 476.0,194.60 476.5,194.10 477.0,193.60 477.5,193.10 478.0,192.60 478.5,192.10 479.0,191.60 479.5,191.10 480.0,190.80 480.5,191.30 481.0,191.80 481.5,192.30 482.0,192.80 482.5,193.30 483.0,193.80 483.5,194.30 484.0,194.83 484.5,195.45 485.0,196.08 485.5,196.70 486.0,197.33 486.5,197.95 487.0,198.58 487.5,199.20 488.0,199.84 488.5,200.51 489.0,201.19 489.5,201.87 490.0,202.55 490.5,203.23 491.0,207.63 491.5,214.50 492.0,221.37 492.5,225.67 493.0,226.11 493.5,226.55 494.0,226.99 494.5,227.42 495.0,227.86 495.5,228.30 496.0,228.74 496.5,229.51 497.0,230.79 497.5,232.07 498.0,233.35 498.5,234.63 499.0,235.91 499.5,237.20 500.0,238.48 500.5,239.58 501.0,239.96 501.5,240.35 502.0,240.73 502.5,241.12 503.0,241.50 503.5,241.93 504.0,241.90 504.5,241.88 505.0,241.85 505.5,241.83 506.0,241.80 506.5,241.78 507.0,241.75 507.5,241.73 508.0,241.71 508.5,241.68 509.0,241.66 509.5,241.63 510.0,241.61 510.5,241.58 511.0,241.56 511.5,241.53 512.0,241.51 512.5,241.48 513.0,241.46 513.5,241.43 514.0,241.41 514.5,241.38 515.0,241.36 515.5,241.34 516.0,241.31 516.5,241.29 517.0,241.26 517.5,241.24 518.0,241.21 518.5,241.19 519.0,241.16 519.5,241.14 520.0,241.11 520.5,241.04 521.0,240.97 521.5,240.90 522.0,240.83 522.5,240.76 523.0,240.69 523.5,240.61 524.0,240.54 524.5,240.47 525.0,240.40 525.5,240.37 526.0,240.35 526.5,240.32 527.0,240.29 527.5,240.26 528.0,240.24 528.5,240.21 529.0,240.18 529.5,240.16 530.0,240.13 530.5,240.10 531.0,240.07 531.5,240.05 532.0,240.02 532.5,239.99 533.0,239.97 533.5,239.94 534.0,239.91 534.5,239.88 535.0,239.86 535.5,239.83 536.0,239.80 536.5,239.78 537.0,239.75 537.5,239.72 538.0,239.69 538.5,239.67 539.0,239.64 539.5,239.63 540.0,239.62 540.5,239.62 541.0,239.61 541.5,239.60 542.0,239.59 542.5,239.58 543.0,239.58 543.5,239.57 544.0,239.56 544.5,239.55 545.0,239.54 545.5,239.46 546.0,239.38 546.5,239.30 547.0,239.22 547.5,239.14 548.0,239.06 548.5,238.98 549.0,238.90 549.5,238.82 550.0,238.74 550.5,238.66 551.0,238.17 551.5,237.69 552.0,237.21 552.5,236.73 553.0,236.24 553.5,235.76 554.0,235.28 554.5,234.80 555.0,234.00 555.5,233.14 556.0,232.27 556.5,231.40 557.0,230.53 557.5,229.56 558.0,228.43 558.5,227.30 559.0,226.25 559.5,225.26 560.0,224.26 560.5,223.81 561.0,223.35 561.5,222.89 562.0,222.43 562.5,221.97 563.0,221.42 563.5,220.71 564.0,220.01 564.5,219.31 565.0,218.60 565.5,217.90 566.0,214.99 566.5,212.08 567.0,209.17 567.5,206.26 568.0,203.80 568.5,201.66 569.0,199.86 569.5,198.06 570.0,198.92 570.5,200.44 571.0,201.97 571.5,207.38 572.0,212.72 572.5,217.63 573.0,221.09 573.5,224.34 574.0,227.60 574.5,230.43 575.0,231.59 575.5,232.74 576.0,233.82 576.5,234.78 577.0,234.57 577.5,234.36 578.0,234.15 578.5,233.94 579.0,233.72 579.5,233.51 580.0,233.30 580.5,232.71 581.0,232.11 581.5,231.52 582.0,230.88 582.5,230.27 583.0,229.65 583.5,229.03 584.0,228.41 584.5,227.79 585.0,227.17 585.5,226.55 586.0,225.93 586.5,225.31 587.0,224.70 587.5,224.35 588.0,225.07 588.5,225.80 589.0,226.53 589.5,227.26 590.0,227.99 590.5,228.72 591.0,229.45 591.5,230.17 592.0,230.85 592.5,231.22 593.0,231.60 593.5,231.97 594.0,232.35 594.5,232.72 595.0,233.10 595.5,233.48 596.0,233.86 596.5,234.29 597.0,234.72 597.5,235.14 598.0,235.57 598.5,236.00 599.0,236.43 599.5,236.86 600.0,237.28 600.5,237.92 601.0,238.56 601.5,239.19 602.0,239.83 602.5,240.46 603.0,241.10 603.5,241.10 604.0,241.09 604.5,241.09 605.0,241.08 605.5,241.08 606.0,241.07 606.5,241.07 607.0,241.07 607.5,241.06 608.0,241.06 608.5,241.05 609.0,241.05 609.5,241.05 610.0,241.04 610.5,241.04 611.0,241.03 611.5,241.03 612.0,241.03 612.5,241.02 613.0,241.02 613.5,241.01 614.0,241.01 614.5,241.00 615.0,241.00 615.5,240.95 616.0,240.90 616.5,240.85 617.0,240.80 617.5,240.75 618.0,240.70 618.5,240.65 619.0,240.60 619.5,240.55 620.0,240.50 620.5,240.55 621.0,240.60 621.5,240.65 622.0,240.70 622.5,240.75 623.0,240.80 623.5,240.85 624.0,240.90 624.5,240.95 625.0,241.00 625.5,241.05 626.0,241.10 626.5,241.15 627.0,241.20 627.5,241.25 628.0,241.30 628.5,241.35 629.0,241.40 629.5,241.45 630.0,241.50 630.5,241.50 631.0,241.50 631.5,241.50 632.0,241.50 632.5,241.50 633.0,241.50 633.5,241.50 634.0,241.50 634.5,241.50 635.0,241.50 635.5,241.50 636.0,241.50 636.5,241.50 637.0,241.50 637.5,241.50 638.0,241.50 638.5,241.50 639.0,241.50 639.5,241.50 640.0,241.50 640.5,241.50 641.0,241.50 641.5,241.50 642.0,241.50 642.5,241.50 643.0,241.50 643.5,241.50 644.0,241.50 644.5,241.50 645.0,241.50 645.5,241.50 646.0,241.50 646.5,241.50 647.0,241.50 647.5,241.50 648.0,241.50 648.5,241.50 649.0,241.50 649.5,241.50 650.0,241.50 650.5,241.50 651.0,241.50 651.5,241.50 652.0,241.50 652.5,241.50 653.0,241.50 653.5,241.50 654.0,241.50 654.5,241.50 655.0,241.50 655.5,241.50 656.0,241.50 656.5,241.50 657.0,241.50 657.5,241.50 658.0,241.50 658.5,241.50 659.0,241.50 659.5,241.50 660.0,241.50 660.5,241.50 661.0,241.50 661.5,241.50 662.0,241.50 662.5,241.50 663.0,241.50 663.5,241.50 664.0,241.50 664.5,241.50 665.0,241.50 665.5,241.50 666.0,241.50 666.5,241.50 667.0,241.50 667.5,241.50 668.0,241.50 668.5,241.50 669.0,241.50 669.5,241.50 670.0,241.50 670.5,241.50 670.6,241.50 L670.6,245.5 Z"/>
<path fill="#e6d12e" d="M106.0,245.5 L106.0,234.65 106.5,235.20 107.0,235.76 107.5,236.31 108.0,236.86 108.5,237.09 109.0,237.32 109.5,237.55 110.0,237.78 110.5,238.01 111.0,238.24 111.5,238.31 112.0,238.37 112.5,238.44 113.0,238.50 113.5,238.57 114.0,238.63 114.5,238.70 115.0,238.77 115.5,238.83 116.0,238.90 116.5,238.96 117.0,239.03 117.5,239.09 118.0,239.16 118.5,239.01 119.0,238.86 119.5,238.71 120.0,238.56 120.5,238.31 121.0,238.05 121.5,237.80 122.0,237.54 122.5,237.26 123.0,236.97 123.5,236.47 124.0,235.00 124.5,231.27 125.0,224.15 125.5,217.04 126.0,209.93 126.5,207.29 127.0,205.78 127.5,204.27 128.0,205.71 128.5,209.14 129.0,212.56 129.5,215.99 130.0,218.67 130.5,220.23 131.0,221.80 131.5,223.37 132.0,224.93 132.5,226.50 133.0,228.07 133.5,229.63 134.0,231.20 134.5,231.14 135.0,231.09 135.5,231.03 136.0,230.98 136.5,230.92 137.0,230.86 137.5,230.81 138.0,230.75 138.5,230.54 139.0,230.09 139.5,229.65 140.0,229.20 140.5,228.75 141.0,228.31 141.5,227.86 142.0,227.41 142.5,226.97 143.0,226.52 143.5,226.07 144.0,225.63 144.5,225.18 145.0,225.63 145.5,226.93 146.0,228.24 146.5,229.54 147.0,230.85 147.5,232.16 148.0,233.46 148.5,234.77 149.0,235.97 149.5,236.72 150.0,237.48 150.5,237.84 151.0,238.21 151.5,238.57 152.0,238.93 152.5,238.35 153.0,237.13 153.5,235.92 154.0,234.70 154.5,233.49 155.0,232.27 155.5,231.06 156.0,229.84 156.5,228.63 157.0,227.46 157.5,226.32 158.0,225.18 158.5,224.05 159.0,222.91 159.5,221.77 160.0,220.63 160.5,219.50 161.0,218.36 161.5,217.22 162.0,216.09 162.5,214.95 163.0,213.81 163.5,212.67 164.0,211.54 164.5,210.40 165.0,211.28 165.5,212.16 166.0,213.04 166.5,213.92 167.0,214.80 167.5,215.68 168.0,216.56 168.5,217.44 169.0,218.32 169.5,219.20 170.0,220.08 170.5,220.96 171.0,221.80 171.5,222.51 172.0,223.21 172.5,223.92 173.0,224.62 173.5,225.33 174.0,226.03 174.5,226.74 175.0,227.45 175.5,228.15 176.0,228.86 176.5,229.46 177.0,229.50 177.5,229.41 178.0,229.32 178.5,229.22 179.0,229.13 179.5,229.04 180.0,228.95 180.5,228.85 181.0,228.76 181.5,228.67 182.0,229.10 182.5,229.66 183.0,230.22 183.5,230.78 184.0,231.34 184.5,231.90 185.0,232.47 185.5,232.75 186.0,232.96 186.5,233.17 187.0,233.38 187.5,233.59 188.0,233.80 188.5,234.01 189.0,234.22 189.5,234.51 190.0,235.16 190.5,235.76 191.0,236.36 191.5,236.96 192.0,237.56 192.5,238.16 193.0,238.64 193.5,238.64 194.0,238.64 194.5,238.64 195.0,238.64 195.5,238.64 196.0,238.64 196.5,238.64 197.0,238.64 197.5,238.64 198.0,238.64 198.5,238.64 199.0,238.64 199.5,238.64 200.0,238.64 200.5,238.44 201.0,238.24 201.5,238.04 202.0,237.84 202.5,237.64 203.0,237.44 203.5,237.24 204.0,237.24 204.5,237.24 205.0,237.24 205.5,237.24 206.0,237.24 206.5,237.24 207.0,237.24 207.5,237.24 208.0,237.24 208.5,237.24 209.0,237.24 209.5,237.24 210.0,237.24 210.5,237.24 211.0,237.24 211.5,237.24 212.0,237.24 212.5,237.24 213.0,237.30 213.5,237.40 214.0,237.51 214.5,237.61 215.0,237.71 215.5,237.82 216.0,237.92 216.5,238.02 217.0,238.12 217.5,238.23 218.0,238.33 218.5,238.43 219.0,238.54 219.5,238.64 220.0,238.74 220.5,238.84 221.0,238.95 221.5,239.05 222.0,239.15 222.5,239.25 223.0,239.36 223.5,239.44 224.0,239.44 224.5,239.44 225.0,239.44 225.5,239.44 226.0,239.44 226.5,239.44 227.0,239.44 227.5,239.44 228.0,239.44 228.5,239.44 229.0,239.44 229.5,239.44 230.0,239.44 230.5,239.44 231.0,239.44 231.5,239.44 232.0,239.44 232.5,239.44 233.0,239.44 233.5,239.44 234.0,239.44 234.5,239.44 235.0,239.33 235.5,237.96 236.0,236.24 236.5,234.81 237.0,234.69 237.5,234.69 238.0,234.68 238.5,234.67 239.0,234.67 239.5,234.66 240.0,234.65 240.5,234.65 241.0,234.64 241.5,234.63 242.0,234.63 242.5,234.62 243.0,234.61 243.5,234.61 244.0,234.60 244.5,234.59 245.0,234.58 245.5,234.58 246.0,234.57 246.5,234.56 247.0,234.56 247.5,234.55 248.0,234.54 248.5,234.54 249.0,234.53 249.5,234.52 250.0,234.52 250.5,234.51 251.0,234.50 251.5,234.50 252.0,234.53 252.5,234.59 253.0,234.65 253.5,234.71 254.0,234.77 254.5,234.82 255.0,234.88 255.5,234.94 256.0,235.00 256.5,235.06 257.0,235.12 257.5,235.18 258.0,235.24 258.5,235.30 259.0,235.35 259.5,235.41 260.0,235.47 260.5,235.42 261.0,235.29 261.5,235.16 262.0,235.03 262.5,234.91 263.0,234.78 263.5,234.65 264.0,234.52 264.5,234.40 265.0,234.27 265.5,234.14 266.0,234.01 266.5,233.88 267.0,233.76 267.5,233.63 268.0,233.50 268.5,233.37 269.0,233.34 269.5,233.47 270.0,233.59 270.5,233.72 271.0,233.84 271.5,233.97 272.0,234.09 272.5,234.39 273.0,234.69 273.5,234.99 274.0,235.29 274.5,235.53 275.0,235.52 275.5,235.51 276.0,235.50 276.5,235.39 277.0,235.29 277.5,235.18 278.0,235.07 278.5,234.97 279.0,234.86 279.5,234.75 280.0,234.65 280.5,234.16 281.0,233.58 281.5,233.00 282.0,232.42 282.5,231.52 283.0,230.62 283.5,229.72 284.0,228.82 284.5,227.92 285.0,227.02 285.5,227.59 286.0,228.15 286.5,228.72 287.0,229.29 287.5,229.85 288.0,230.42 288.5,231.65 289.0,232.88 289.5,234.12 290.0,235.35 290.5,236.16 291.0,236.71 291.5,237.27 292.0,237.83 292.5,238.39 293.0,238.94 293.5,239.50 294.0,240.06 294.5,240.50 295.0,240.78 295.5,241.06 296.0,241.34 296.5,241.40 297.0,241.46 297.5,241.52 298.0,241.58 298.5,241.64 299.0,241.76 299.5,241.89 300.0,242.01 300.5,242.13 301.0,242.25 301.5,242.38 302.0,242.50 302.5,242.62 303.0,242.75 303.5,242.87 304.0,242.99 304.5,243.04 305.0,243.04 305.5,243.04 306.0,243.04 306.5,243.04 307.0,243.04 307.5,243.04 308.0,243.04 308.5,243.04 309.0,243.04 309.5,243.04 310.0,243.04 310.5,243.04 311.0,243.04 311.5,243.04 312.0,243.04 312.5,243.04 313.0,243.04 313.5,243.04 314.0,243.04 314.5,243.04 315.0,243.04 315.5,243.04 316.0,243.04 316.5,243.04 317.0,243.04 317.5,243.04 318.0,243.04 318.5,243.04 319.0,243.04 319.5,243.04 320.0,243.04 320.5,243.04 321.0,243.04 321.5,243.04 322.0,243.04 322.5,243.04 323.0,243.04 323.5,243.04 324.0,243.04 324.5,243.04 325.0,243.04 325.5,243.04 326.0,243.04 326.5,243.04 327.0,243.04 327.5,243.04 328.0,243.04 328.5,243.04 329.0,243.04 329.5,243.04 330.0,243.04 330.5,243.03 331.0,243.02 331.5,243.01 332.0,243.00 332.5,243.00 333.0,242.99 333.5,242.98 334.0,242.97 334.5,242.96 335.0,242.95 335.5,242.94 336.0,242.93 336.5,242.92 337.0,242.92 337.5,242.91 338.0,242.90 338.5,242.89 339.0,242.88 339.5,242.87 340.0,242.86 340.5,242.85 341.0,242.84 341.5,242.84 342.0,242.83 342.5,242.82 343.0,242.81 343.5,242.80 344.0,242.79 344.5,242.78 345.0,242.77 345.5,242.76 346.0,242.76 346.5,242.75 347.0,242.74 347.5,242.73 348.0,242.72 348.5,242.71 349.0,242.70 349.5,242.69 350.0,242.68 350.5,242.68 351.0,242.67 351.5,242.66 352.0,242.65 352.5,242.64 353.0,242.63 353.5,242.62 354.0,242.61 354.5,242.60 355.0,242.60 355.5,242.59 356.0,242.58 356.5,242.57 357.0,242.56 357.5,242.55 358.0,242.54 358.5,242.45 359.0,242.34 359.5,242.22 360.0,242.11 360.5,242.00 361.0,241.89 361.5,241.72 362.0,241.53 362.5,241.33 363.0,241.13 363.5,240.94 364.0,240.74 364.5,240.54 365.0,240.35 365.5,240.15 366.0,239.95 366.5,239.61 367.0,239.17 367.5,238.58 368.0,237.98 368.5,237.39 369.0,236.80 369.5,236.20 370.0,235.61 370.5,235.02 371.0,234.42 371.5,233.83 372.0,233.50 372.5,231.92 373.0,230.34 373.5,228.76 374.0,227.18 374.5,225.61 375.0,224.03 375.5,222.45 376.0,219.75 376.5,215.38 377.0,211.00 377.5,209.79 378.0,208.58 378.5,207.37 379.0,206.17 379.5,205.30 380.0,205.80 380.5,206.30 381.0,206.80 381.5,207.30 382.0,207.80 382.5,208.30 383.0,208.09 383.5,207.70 384.0,207.31 384.5,206.92 385.0,206.53 385.5,206.14 386.0,205.75 386.5,205.36 387.0,204.42 387.5,203.13 388.0,201.84 388.5,200.55 389.0,199.26 389.5,195.25 390.0,190.56 390.5,185.87 391.0,182.00 391.5,178.67 392.0,175.33 392.5,172.00 393.0,168.67 393.5,165.33 394.0,162.00 394.5,158.67 395.0,155.73 395.5,154.40 396.0,153.07 396.5,151.74 397.0,150.41 397.5,149.09 398.0,147.76 398.5,146.43 399.0,145.10 399.5,143.77 400.0,144.98 400.5,146.83 401.0,148.69 401.5,150.54 402.0,152.39 402.5,154.24 403.0,156.09 403.5,157.94 404.0,159.80 404.5,161.65 405.0,163.50 405.5,164.36 406.0,165.22 406.5,166.09 407.0,166.95 407.5,167.81 408.0,169.50 408.5,174.48 409.0,179.46 409.5,184.45 410.0,189.43 410.5,194.41 411.0,199.81 411.5,206.84 412.0,213.58 412.5,218.50 413.0,223.32 413.5,226.50 414.0,231.75 414.5,237.00 415.0,238.10 415.5,239.20 416.0,240.30 416.5,240.33 417.0,240.35 417.5,240.38 418.0,240.40 418.5,240.43 419.0,240.45 419.5,240.47 420.0,240.50 420.5,240.50 421.0,240.50 421.5,240.50 422.0,240.50 422.5,240.50 423.0,240.50 423.5,240.50 424.0,240.50 424.5,240.50 425.0,240.50 425.5,240.50 426.0,240.50 426.5,240.50 427.0,240.50 427.5,240.50 428.0,240.50 428.5,240.50 429.0,240.50 429.5,240.50 430.0,240.50 430.5,240.50 431.0,240.50 431.5,240.50 432.0,240.50 432.5,240.50 433.0,240.50 433.5,240.50 434.0,240.50 434.5,240.50 435.0,240.50 435.5,240.50 436.0,240.50 436.5,240.50 437.0,240.50 437.5,240.50 438.0,240.50 438.5,240.50 439.0,240.50 439.5,240.50 440.0,240.50 440.5,229.83 441.0,219.17 441.5,208.50 442.0,203.35 442.5,198.21 443.0,193.06 443.5,188.80 444.0,185.14 444.5,181.48 445.0,177.82 445.5,174.16 446.0,170.50 446.5,168.89 447.0,167.29 447.5,165.68 448.0,164.07 448.5,162.46 449.0,160.86 449.5,159.25 450.0,157.64 450.5,158.62 451.0,161.31 451.5,164.00 452.0,166.69 452.5,169.38 453.0,172.08 453.5,174.77 454.0,177.46 454.5,180.15 455.0,182.85 455.5,184.60 456.0,182.62 456.5,180.64 457.0,178.66 457.5,176.67 458.0,174.69 458.5,172.71 459.0,170.72 459.5,168.74 460.0,166.76 460.5,164.78 461.0,162.79 461.5,163.50 462.0,166.00 462.5,168.50 463.0,171.00 463.5,173.50 464.0,177.25 464.5,181.00 465.0,184.75 465.5,188.50 466.0,191.90 466.5,193.90 467.0,195.90 467.5,197.90 468.0,199.90 468.5,201.90 469.0,203.90 469.5,205.41 470.0,204.97 470.5,204.53 471.0,204.09 471.5,203.65 472.0,203.21 472.5,202.76 473.0,202.05 473.5,200.92 474.0,199.79 474.5,198.66 475.0,197.53 475.5,196.40 476.0,195.40 476.5,194.90 477.0,194.40 477.5,193.90 478.0,193.40 478.5,192.90 479.0,192.40 479.5,191.90 480.0,191.60 480.5,192.10 481.0,192.60 481.5,193.10 482.0,193.60 482.5,194.10 483.0,194.60 483.5,195.10 484.0,195.63 484.5,196.25 485.0,196.88 485.5,197.50 486.0,198.13 486.5,198.75 487.0,199.38 487.5,200.00 488.0,200.64 488.5,201.36 489.0,202.07 489.5,202.79 490.0,203.50 490.5,204.21 491.0,208.72 491.5,215.75 492.0,222.78 492.5,227.15 493.0,227.52 493.5,227.90 494.0,228.27 494.5,228.65 495.0,229.02 495.5,229.40 496.0,229.77 496.5,230.49 497.0,231.71 497.5,232.93 498.0,234.15 498.5,235.37 499.0,236.59 499.5,237.80 500.0,239.02 500.5,240.07 501.0,240.42 501.5,240.76 502.0,241.11 502.5,241.45 503.0,241.80 503.5,242.23 504.0,242.21 504.5,242.18 505.0,242.16 505.5,242.14 506.0,242.11 506.5,242.09 507.0,242.07 507.5,242.04 508.0,242.02 508.5,242.00 509.0,241.97 509.5,241.95 510.0,241.93 510.5,241.90 511.0,241.88 511.5,241.86 512.0,241.83 512.5,241.81 513.0,241.79 513.5,241.76 514.0,241.74 514.5,241.72 515.0,241.69 515.5,241.67 516.0,241.65 516.5,241.62 517.0,241.60 517.5,241.58 518.0,241.55 518.5,241.53 519.0,241.51 519.5,241.48 520.0,241.46 520.5,241.39 521.0,241.32 521.5,241.25 522.0,241.18 522.5,241.11 523.0,241.04 523.5,240.97 524.0,240.90 524.5,240.83 525.0,240.76 525.5,240.73 526.0,240.70 526.5,240.68 527.0,240.65 527.5,240.62 528.0,240.59 528.5,240.57 529.0,240.54 529.5,240.51 530.0,240.48 530.5,240.45 531.0,240.43 531.5,240.40 532.0,240.37 532.5,240.34 533.0,240.32 533.5,240.29 534.0,240.26 534.5,240.23 535.0,240.21 535.5,240.18 536.0,240.15 536.5,240.12 537.0,240.09 537.5,240.07 538.0,240.04 538.5,240.01 539.0,239.98 539.5,239.97 540.0,239.97 540.5,239.96 541.0,239.95 541.5,239.94 542.0,239.93 542.5,239.92 543.0,239.91 543.5,239.91 544.0,239.90 544.5,239.89 545.0,239.88 545.5,239.81 546.0,239.73 546.5,239.66 547.0,239.59 547.5,239.52 548.0,239.44 548.5,239.37 549.0,239.30 549.5,239.23 550.0,239.15 550.5,239.08 551.0,238.61 551.5,238.13 552.0,237.66 552.5,237.18 553.0,236.71 553.5,236.24 554.0,235.76 554.5,235.29 555.0,234.51 555.5,233.65 556.0,232.80 556.5,231.94 557.0,231.08 557.5,230.12 558.0,229.01 558.5,227.89 559.0,226.85 559.5,225.85 560.0,224.86 560.5,224.40 561.0,223.93 561.5,223.47 562.0,223.01 562.5,222.55 563.0,221.99 563.5,221.28 564.0,220.57 564.5,219.86 565.0,219.15 565.5,218.44 566.0,215.60 566.5,212.77 567.0,209.93 567.5,207.10 568.0,204.71 568.5,202.63 569.0,200.84 569.5,199.04 570.0,199.85 570.5,201.31 571.0,202.77 571.5,208.13 572.0,213.41 572.5,218.28 573.0,221.69 573.5,224.92 574.0,228.15 574.5,230.97 575.0,232.10 575.5,233.23 576.0,234.30 576.5,235.27 577.0,235.05 577.5,234.84 578.0,234.63 578.5,234.42 579.0,234.21 579.5,234.00 580.0,233.79 580.5,233.26 581.0,232.72 581.5,232.19 582.0,231.60 582.5,231.04 583.0,230.47 583.5,229.90 584.0,229.33 584.5,228.77 585.0,228.20 585.5,227.63 586.0,227.06 586.5,226.49 587.0,225.93 587.5,225.61 588.0,226.29 588.5,226.97 589.0,227.65 589.5,228.33 590.0,229.02 590.5,229.70 591.0,230.38 591.5,231.06 592.0,231.69 592.5,232.05 593.0,232.41 593.5,232.77 594.0,233.13 594.5,233.49 595.0,233.85 595.5,234.21 596.0,234.58 596.5,234.99 597.0,235.41 597.5,235.82 598.0,236.23 598.5,236.64 599.0,237.06 599.5,237.47 600.0,237.88 600.5,238.48 601.0,239.08 601.5,239.67 602.0,240.27 602.5,240.86 603.0,241.46 603.5,241.46 604.0,241.45 604.5,241.45 605.0,241.44 605.5,241.44 606.0,241.44 606.5,241.43 607.0,241.43 607.5,241.42 608.0,241.42 608.5,241.41 609.0,241.41 609.5,241.41 610.0,241.40 610.5,241.40 611.0,241.39 611.5,241.39 612.0,241.39 612.5,241.38 613.0,241.38 613.5,241.37 614.0,241.37 614.5,241.36 615.0,241.36 615.5,241.31 616.0,241.26 616.5,241.21 617.0,241.16 617.5,241.11 618.0,241.06 618.5,241.01 619.0,240.96 619.5,240.91 620.0,240.86 620.5,240.91 621.0,240.96 621.5,241.01 622.0,241.06 622.5,241.11 623.0,241.16 623.5,241.21 624.0,241.26 624.5,241.31 625.0,241.36 625.5,241.41 626.0,241.46 626.5,241.51 627.0,241.56 627.5,241.61 628.0,241.66 628.5,241.71 629.0,241.76 629.5,241.81 630.0,241.86 630.5,241.86 631.0,241.86 631.5,241.86 632.0,241.86 632.5,241.86 633.0,241.86 633.5,241.86 634.0,241.86 634.5,241.86 635.0,241.86 635.5,241.86 636.0,241.86 636.5,241.86 637.0,241.86 637.5,241.86 638.0,241.86 638.5,241.86 639.0,241.86 639.5,241.86 640.0,241.86 640.5,241.86 641.0,241.86 641.5,241.86 642.0,241.86 642.5,241.86 643.0,241.86 643.5,241.86 644.0,241.86 644.5,241.86 645.0,241.86 645.5,241.86 646.0,241.86 646.5,241.86 647.0,241.86 647.5,241.86 648.0,241.86 648.5,241.86 649.0,241.86 649.5,241.86 650.0,241.86 650.5,241.86 651.0,241.86 651.5,241.86 652.0,241.86 652.5,241.86 653.0,241.86 653.5,241.86 654.0,241.86 654.5,241.86 655.0,241.86 655.5,241.86 656.0,241.86 656.5,241.86 657.0,241.86 657.5,241.86 658.0,241.86 658.5,241.86 659.0,241.86 659.5,241.86 660.0,241.86 660.5,241.86 661.0,241.86 661.5,241.86 662.0,241.86 662.5,241.86 663.0,241.86 663.5,241.86 664.0,241.86 664.5,241.86 665.0,241.86 665.5,241.86 666.0,241.86 666.5,241.86 667.0,241.86 667.5,241.86 668.0,241.86 668.5,241.86 669.0,241.86 669.5,241.86 670.0,241.86 670.5,241.86 670.6,241.86 L670.6,245.5 Z"/>
<path fill="#c96656" d="M106.0,245.5 L106.0,235.97 106.5,236.44 107.0,236.90 107.5,237.37 108.0,237.84 108.5,238.04 109.0,238.23 109.5,238.43 110.0,238.62 110.5,238.81 111.0,239.01 111.5,239.07 112.0,239.12 112.5,239.18 113.0,239.23 113.5,239.29 114.0,239.34 114.5,239.40 115.0,239.46 115.5,239.51 116.0,239.57 116.5,239.62 117.0,239.68 117.5,239.73 118.0,239.79 118.5,239.66 119.0,239.54 119.5,239.41 120.0,239.28 120.5,239.05 121.0,238.82 121.5,238.58 122.0,238.35 122.5,238.10 123.0,237.84 123.5,238.13 124.0,236.71 124.5,233.03 125.0,225.96 125.5,218.90 126.0,211.84 126.5,209.25 127.0,207.79 127.5,206.33 128.0,207.76 128.5,211.12 129.0,214.48 129.5,217.84 130.0,220.46 130.5,221.97 131.0,223.47 131.5,224.98 132.0,226.48 132.5,227.99 133.0,229.49 133.5,231.00 134.0,232.50 134.5,232.46 135.0,232.42 135.5,232.38 136.0,232.34 136.5,232.30 137.0,232.26 137.5,232.22 138.0,232.18 138.5,231.99 139.0,231.56 139.5,231.13 140.0,230.70 140.5,230.27 141.0,229.84 141.5,229.41 142.0,228.98 142.5,228.55 143.0,228.12 143.5,227.69 144.0,227.26 144.5,226.83 145.0,227.29 145.5,228.53 146.0,229.78 146.5,231.02 147.0,232.27 147.5,233.51 148.0,234.75 148.5,236.00 149.0,237.13 149.5,237.83 150.0,238.52 150.5,238.94 151.0,239.35 151.5,239.77 152.0,240.19 152.5,239.66 153.0,238.50 153.5,237.34 154.0,236.17 154.5,235.01 155.0,233.85 155.5,232.69 156.0,231.53 156.5,230.37 157.0,229.25 157.5,228.17 158.0,227.08 158.5,226.00 159.0,224.92 159.5,223.83 160.0,222.75 160.5,221.67 161.0,220.58 161.5,219.50 162.0,218.42 162.5,217.33 163.0,216.25 163.5,215.17 164.0,214.08 164.5,213.00 165.0,213.83 165.5,214.67 166.0,215.50 166.5,216.34 167.0,217.17 167.5,218.01 168.0,218.84 168.5,219.68 169.0,220.51 169.5,221.34 170.0,222.18 170.5,223.01 171.0,223.81 171.5,224.47 172.0,225.13 172.5,225.79 173.0,226.45 173.5,227.11 174.0,227.78 174.5,228.44 175.0,229.10 175.5,229.76 176.0,230.42 176.5,231.00 177.0,231.03 177.5,230.93 178.0,230.82 178.5,230.71 179.0,230.61 179.5,230.50 180.0,230.39 180.5,230.29 181.0,230.18 181.5,230.07 182.0,230.49 182.5,231.04 183.0,231.59 183.5,232.13 184.0,232.68 184.5,233.23 185.0,233.78 185.5,234.04 186.0,234.24 186.5,234.43 187.0,234.63 187.5,234.83 188.0,235.02 188.5,235.22 189.0,235.41 189.5,235.70 190.0,236.33 190.5,236.93 191.0,237.53 191.5,238.13 192.0,238.73 192.5,239.33 193.0,239.81 193.5,239.81 194.0,239.81 194.5,239.81 195.0,239.81 195.5,239.81 196.0,239.81 196.5,239.81 197.0,239.81 197.5,239.81 198.0,239.81 198.5,239.81 199.0,239.81 199.5,239.81 200.0,239.81 200.5,239.61 201.0,239.41 201.5,239.21 202.0,239.01 202.5,238.81 203.0,238.61 203.5,238.41 204.0,238.41 204.5,238.41 205.0,238.41 205.5,238.41 206.0,238.41 206.5,238.41 207.0,238.41 207.5,238.41 208.0,238.41 208.5,238.41 209.0,238.41 209.5,238.41 210.0,238.41 210.5,238.41 211.0,238.41 211.5,238.41 212.0,238.41 212.5,238.41 213.0,238.47 213.5,238.57 214.0,238.68 214.5,238.78 215.0,238.88 215.5,238.99 216.0,239.09 216.5,239.19 217.0,239.29 217.5,239.40 218.0,239.50 218.5,239.60 219.0,239.71 219.5,239.81 220.0,239.91 220.5,240.01 221.0,240.12 221.5,240.22 222.0,240.32 222.5,240.42 223.0,240.53 223.5,240.61 224.0,240.61 224.5,240.61 225.0,240.61 225.5,240.61 226.0,240.61 226.5,240.61 227.0,240.61 227.5,240.61 228.0,240.61 228.5,240.61 229.0,240.61 229.5,240.61 230.0,240.61 230.5,240.61 231.0,240.61 231.5,240.61 232.0,240.61 232.5,240.61 233.0,240.61 233.5,240.61 234.0,240.61 234.5,240.61 235.0,240.50 235.5,239.48 236.0,237.31 236.5,236.08 237.0,235.97 237.5,235.96 238.0,235.95 238.5,235.95 239.0,235.94 239.5,235.93 240.0,235.93 240.5,235.92 241.0,235.91 241.5,235.91 242.0,235.90 242.5,235.89 243.0,235.89 243.5,235.88 244.0,235.87 244.5,235.87 245.0,235.86 245.5,235.85 246.0,235.85 246.5,235.84 247.0,235.83 247.5,235.83 248.0,235.82 248.5,235.81 249.0,235.81 249.5,235.80 250.0,235.79 250.5,235.79 251.0,235.78 251.5,235.77 252.0,235.81 252.5,235.86 253.0,235.92 253.5,235.98 254.0,236.04 254.5,236.10 255.0,236.16 255.5,236.22 256.0,236.28 256.5,236.33 257.0,236.39 257.5,236.45 258.0,236.51 258.5,236.57 259.0,236.63 259.5,236.69 260.0,236.75 260.5,236.69 261.0,236.57 261.5,236.44 262.0,236.31 262.5,236.18 263.0,236.05 263.5,235.93 264.0,235.80 264.5,235.67 265.0,235.54 265.5,235.41 266.0,235.29 266.5,235.16 267.0,235.03 267.5,234.90 268.0,234.77 268.5,234.65 269.0,234.62 269.5,234.75 270.0,234.87 270.5,235.00 271.0,235.12 271.5,235.25 272.0,235.37 272.5,235.64 273.0,235.91 273.5,236.18 274.0,236.46 274.5,236.66 275.0,236.63 275.5,236.59 276.0,236.55 276.5,236.43 277.0,236.31 277.5,236.19 278.0,236.07 278.5,235.95 279.0,235.84 279.5,235.72 280.0,235.60 280.5,235.10 281.0,234.51 281.5,233.91 282.0,233.32 282.5,232.42 283.0,231.52 283.5,230.62 284.0,229.72 284.5,228.82 285.0,227.92 285.5,228.49 286.0,229.05 286.5,229.62 287.0,230.19 287.5,230.75 288.0,231.32 288.5,232.51 289.0,233.71 289.5,234.91 290.0,236.10 290.5,237.39 291.0,237.88 291.5,238.38 292.0,238.87 292.5,239.36 293.0,239.85 293.5,240.35 294.0,240.84 294.5,241.22 295.0,241.43 295.5,241.65 296.0,241.86 296.5,241.92 297.0,241.98 297.5,242.04 298.0,242.10 298.5,242.16 299.0,242.28 299.5,242.41 300.0,242.53 300.5,242.65 301.0,242.77 301.5,242.90 302.0,243.02 302.5,243.14 303.0,243.27 303.5,243.39 304.0,243.51 304.5,243.56 305.0,243.56 305.5,243.56 306.0,243.56 306.5,243.56 307.0,243.56 307.5,243.56 308.0,243.56 308.5,243.56 309.0,243.56 309.5,243.56 310.0,243.56 310.5,243.56 311.0,243.56 311.5,243.56 312.0,243.56 312.5,243.56 313.0,243.56 313.5,243.56 314.0,243.56 314.5,243.56 315.0,243.56 315.5,243.56 316.0,243.56 316.5,243.56 317.0,243.56 317.5,243.56 318.0,243.56 318.5,243.56 319.0,243.56 319.5,243.56 320.0,243.56 320.5,243.56 321.0,243.56 321.5,243.56 322.0,243.56 322.5,243.56 323.0,243.56 323.5,243.56 324.0,243.56 324.5,243.56 325.0,243.56 325.5,243.56 326.0,243.56 326.5,243.56 327.0,243.56 327.5,243.56 328.0,243.56 328.5,243.56 329.0,243.56 329.5,243.56 330.0,243.56 330.5,243.55 331.0,243.54 331.5,243.53 332.0,243.52 332.5,243.52 333.0,243.51 333.5,243.50 334.0,243.49 334.5,243.48 335.0,243.47 335.5,243.46 336.0,243.45 336.5,243.44 337.0,243.44 337.5,243.43 338.0,243.42 338.5,243.41 339.0,243.40 339.5,243.39 340.0,243.38 340.5,243.37 341.0,243.36 341.5,243.36 342.0,243.35 342.5,243.34 343.0,243.33 343.5,243.32 344.0,243.31 344.5,243.30 345.0,243.29 345.5,243.28 346.0,243.28 346.5,243.27 347.0,243.26 347.5,243.25 348.0,243.24 348.5,243.23 349.0,243.22 349.5,243.21 350.0,243.20 350.5,243.20 351.0,243.19 351.5,243.18 352.0,243.17 352.5,243.16 353.0,243.15 353.5,243.14 354.0,243.13 354.5,243.12 355.0,243.12 355.5,243.11 356.0,243.10 356.5,243.09 357.0,243.08 357.5,243.07 358.0,243.06 358.5,242.97 359.0,242.86 359.5,242.74 360.0,242.63 360.5,242.52 361.0,242.41 361.5,242.24 362.0,242.05 362.5,241.85 363.0,241.65 363.5,241.46 364.0,241.26 364.5,241.06 365.0,240.87 365.5,240.67 366.0,240.47 366.5,240.17 367.0,239.77 367.5,239.22 368.0,238.68 368.5,238.13 369.0,237.58 369.5,237.03 370.0,236.48 370.5,235.93 371.0,235.38 371.5,234.83 372.0,234.50 372.5,233.12 373.0,231.74 373.5,230.36 374.0,228.97 374.5,227.59 375.0,226.21 375.5,224.83 376.0,222.75 376.5,219.62 377.0,216.50 377.5,213.60 378.0,211.60 378.5,209.60 379.0,209.53 379.5,209.94 380.0,210.35 380.5,210.77 381.0,211.18 381.5,211.59 382.0,212.00 382.5,212.42 383.0,212.18 383.5,211.78 384.0,211.37 384.5,210.97 385.0,210.57 385.5,210.17 386.0,209.76 386.5,209.36 387.0,208.20 387.5,206.53 388.0,204.87 388.5,203.20 389.0,201.53 389.5,197.15 390.0,192.09 390.5,187.02 391.0,183.03 391.5,179.74 392.0,176.46 392.5,173.17 393.0,169.89 393.5,166.60 394.0,163.31 394.5,160.03 395.0,157.14 395.5,155.84 396.0,154.54 396.5,153.25 397.0,151.95 397.5,150.65 398.0,149.35 398.5,148.06 399.0,146.76 399.5,145.46 400.0,146.67 400.5,148.50 401.0,150.33 401.5,152.17 402.0,154.00 402.5,155.83 403.0,157.67 403.5,159.50 404.0,161.33 404.5,163.17 405.0,165.00 405.5,165.86 406.0,166.72 406.5,167.59 407.0,168.45 407.5,169.31 408.0,171.00 408.5,175.98 409.0,180.96 409.5,185.95 410.0,190.93 410.5,195.91 411.0,201.31 411.5,208.34 412.0,213.58 412.5,218.50 413.0,224.31 413.5,228.00 414.0,233.00 414.5,238.00 415.0,239.10 415.5,240.20 416.0,241.30 416.5,241.33 417.0,241.35 417.5,241.38 418.0,241.40 418.5,241.43 419.0,241.45 419.5,241.47 420.0,241.50 420.5,241.50 421.0,241.50 421.5,241.50 422.0,241.50 422.5,241.50 423.0,241.50 423.5,241.50 424.0,241.50 424.5,241.50 425.0,241.50 425.5,241.50 426.0,241.50 426.5,241.50 427.0,241.50 427.5,241.50 428.0,241.50 428.5,241.50 429.0,241.50 429.5,241.50 430.0,241.50 430.5,241.50 431.0,241.50 431.5,241.50 432.0,241.50 432.5,241.50 433.0,241.50 433.5,241.50 434.0,241.50 434.5,241.50 435.0,241.50 435.5,241.50 436.0,241.50 436.5,241.50 437.0,241.50 437.5,241.50 438.0,241.50 438.5,241.50 439.0,241.50 439.5,241.50 440.0,241.50 440.5,230.90 441.0,220.30 441.5,209.70 442.0,204.64 442.5,199.58 443.0,194.52 443.5,190.30 444.0,186.64 444.5,182.98 445.0,179.32 445.5,175.66 446.0,172.00 446.5,170.39 447.0,168.79 447.5,167.18 448.0,165.57 448.5,163.96 449.0,162.36 449.5,160.75 450.0,159.14 450.5,160.12 451.0,162.81 451.5,165.50 452.0,168.19 452.5,170.88 453.0,173.58 453.5,176.27 454.0,178.96 454.5,181.65 455.0,184.35 455.5,186.10 456.0,184.12 456.5,182.14 457.0,180.16 457.5,178.17 458.0,176.19 458.5,174.21 459.0,172.22 459.5,170.24 460.0,168.26 460.5,166.28 461.0,164.29 461.5,165.00 462.0,167.50 462.5,170.00 463.0,172.50 463.5,175.00 464.0,178.75 464.5,182.50 465.0,186.25 465.5,190.00 466.0,193.40 466.5,195.40 467.0,197.40 467.5,199.40 468.0,201.40 468.5,203.40 469.0,205.40 469.5,206.91 470.0,206.47 470.5,206.03 471.0,205.59 471.5,205.15 472.0,204.71 472.5,204.26 473.0,203.55 473.5,202.42 474.0,201.29 474.5,200.16 475.0,199.03 475.5,197.90 476.0,196.90 476.5,196.40 477.0,195.90 477.5,195.40 478.0,194.90 478.5,194.40 479.0,193.90 479.5,193.40 480.0,193.10 480.5,193.60 481.0,194.10 481.5,194.60 482.0,195.10 482.5,195.60 483.0,196.10 483.5,196.60 484.0,197.13 484.5,197.75 485.0,198.38 485.5,199.00 486.0,199.63 486.5,200.25 487.0,200.88 487.5,201.50 488.0,202.14 488.5,202.86 489.0,203.57 489.5,204.29 490.0,205.00 490.5,205.71 491.0,210.24 491.5,217.30 492.0,224.36 492.5,228.76 493.0,229.16 493.5,229.56 494.0,229.96 494.5,230.36 495.0,230.76 495.5,231.16 496.0,231.56 496.5,232.27 497.0,233.46 497.5,234.64 498.0,235.82 498.5,237.00 499.0,238.19 499.5,239.37 500.0,240.55 500.5,241.56 501.0,241.85 501.5,242.13 502.0,242.42 502.5,242.71 503.0,243.00 503.5,242.88 504.0,242.86 504.5,242.84 505.0,242.82 505.5,242.80 506.0,242.78 506.5,242.76 507.0,242.74 507.5,242.72 508.0,242.70 508.5,242.68 509.0,242.66 509.5,242.64 510.0,242.62 510.5,242.60 511.0,242.58 511.5,242.56 512.0,242.54 512.5,242.52 513.0,242.50 513.5,242.47 514.0,242.45 514.5,242.43 515.0,242.41 515.5,242.39 516.0,242.37 516.5,242.35 517.0,242.33 517.5,242.31 518.0,242.29 518.5,242.27 519.0,242.25 519.5,242.23 520.0,242.21 520.5,242.14 521.0,242.08 521.5,242.01 522.0,241.94 522.5,241.88 523.0,241.81 523.5,241.74 524.0,241.67 524.5,241.61 525.0,241.54 525.5,241.51 526.0,241.48 526.5,241.45 527.0,241.42 527.5,241.39 528.0,241.37 528.5,241.34 529.0,241.31 529.5,241.28 530.0,241.25 530.5,241.22 531.0,241.19 531.5,241.16 532.0,241.13 532.5,241.10 533.0,241.08 533.5,241.05 534.0,241.02 534.5,240.99 535.0,240.96 535.5,240.93 536.0,240.90 536.5,240.87 537.0,240.84 537.5,240.81 538.0,240.78 538.5,240.76 539.0,240.73 539.5,240.72 540.0,240.71 540.5,240.70 541.0,240.69 541.5,240.68 542.0,240.67 542.5,240.66 543.0,240.65 543.5,240.64 544.0,240.63 544.5,240.62 545.0,240.61 545.5,240.55 546.0,240.50 546.5,240.44 547.0,240.39 547.5,240.33 548.0,240.28 548.5,240.22 549.0,240.17 549.5,240.11 550.0,240.06 550.5,240.00 551.0,239.55 551.5,239.09 552.0,238.63 552.5,238.18 553.0,237.72 553.5,237.26 554.0,236.81 554.5,236.35 555.0,235.60 555.5,234.77 556.0,233.94 556.5,233.11 557.0,232.29 557.5,231.36 558.0,230.27 558.5,229.18 559.0,228.15 559.5,227.14 560.0,226.14 560.5,225.67 561.0,225.21 561.5,224.74 562.0,224.27 562.5,223.80 563.0,223.23 563.5,222.51 564.0,221.78 564.5,221.06 565.0,220.33 565.5,219.61 566.0,216.94 566.5,214.26 567.0,211.59 567.5,208.92 568.0,206.69 568.5,204.72 569.0,202.94 569.5,201.17 570.0,201.88 570.5,203.20 571.0,204.53 571.5,209.74 572.0,214.91 572.5,219.68 573.0,222.99 573.5,226.18 574.0,229.36 574.5,232.13 575.0,233.21 575.5,234.30 576.0,235.34 576.5,236.31 577.0,236.10 577.5,235.89 578.0,235.69 578.5,235.48 579.0,235.27 579.5,235.07 580.0,234.86 580.5,234.45 581.0,234.03 581.5,233.62 582.0,233.16 582.5,232.71 583.0,232.25 583.5,231.79 584.0,231.34 584.5,230.88 585.0,230.42 585.5,229.96 586.0,229.51 586.5,229.05 587.0,228.59 587.5,228.34 588.0,228.92 588.5,229.50 589.0,230.08 589.5,230.66 590.0,231.24 590.5,231.82 591.0,232.40 591.5,232.98 592.0,233.51 592.5,233.84 593.0,234.16 593.5,234.49 594.0,234.82 594.5,235.15 595.0,235.48 595.5,235.80 596.0,236.14 596.5,236.52 597.0,236.90 597.5,237.28 598.0,237.66 598.5,238.04 599.0,238.42 599.5,238.80 600.0,239.18 600.5,239.69 601.0,240.20 601.5,240.71 602.0,241.22 602.5,241.73 603.0,242.24 603.5,242.24 604.0,242.23 604.5,242.23 605.0,242.22 605.5,242.22 606.0,242.21 606.5,242.21 607.0,242.21 607.5,242.20 608.0,242.20 608.5,242.19 609.0,242.19 609.5,242.19 610.0,242.18 610.5,242.18 611.0,242.17 611.5,242.17 612.0,242.16 612.5,242.16 613.0,242.16 613.5,242.15 614.0,242.15 614.5,242.14 615.0,242.14 615.5,242.09 616.0,242.04 616.5,241.99 617.0,241.94 617.5,241.89 618.0,241.84 618.5,241.79 619.0,241.74 619.5,241.69 620.0,241.64 620.5,241.69 621.0,241.74 621.5,241.79 622.0,241.84 622.5,241.89 623.0,241.94 623.5,241.99 624.0,242.04 624.5,242.09 625.0,242.14 625.5,242.19 626.0,242.24 626.5,242.29 627.0,242.34 627.5,242.39 628.0,242.44 628.5,242.49 629.0,242.54 629.5,242.59 630.0,242.64 630.5,242.64 631.0,242.64 631.5,242.64 632.0,242.64 632.5,242.64 633.0,242.64 633.5,242.64 634.0,242.64 634.5,242.64 635.0,242.64 635.5,242.64 636.0,242.64 636.5,242.64 637.0,242.64 637.5,242.64 638.0,242.64 638.5,242.64 639.0,242.64 639.5,242.64 640.0,242.64 640.5,242.64 641.0,242.64 641.5,242.64 642.0,242.64 642.5,242.64 643.0,242.64 643.5,242.64 644.0,242.64 644.5,242.64 645.0,242.64 645.5,242.64 646.0,242.64 646.5,242.64 647.0,242.64 647.5,242.64 648.0,242.64 648.5,242.64 649.0,242.64 649.5,242.64 650.0,242.64 650.5,242.64 651.0,242.64 651.5,242.64 652.0,242.64 652.5,242.64 653.0,242.64 653.5,242.64 654.0,242.64 654.5,242.64 655.0,242.64 655.5,242.64 656.0,242.64 656.5,242.64 657.0,242.64 657.5,242.64 658.0,242.64 658.5,242.64 659.0,242.64 659.5,242.64 660.0,242.64 660.5,242.64 661.0,242.64 661.5,242.64 662.0,242.64 662.5,242.64 663.0,242.64 663.5,242.64 664.0,242.64 664.5,242.64 665.0,242.64 665.5,242.64 666.0,242.64 666.5,242.64 667.0,242.64 667.5,242.64 668.0,242.64 668.5,242.64 669.0,242.64 669.5,242.64 670.0,242.64 670.5,242.64 670.6,242.64 L670.6,245.5 Z"/>
<path fill="#6e8272" d="M106.0,245.5 L106.0,237.38 106.5,237.76 107.0,238.13 107.5,238.51 108.0,238.89 108.5,239.05 109.0,239.21 109.5,239.36 110.0,239.52 110.5,239.68 111.0,239.84 111.5,239.88 112.0,239.93 112.5,239.97 113.0,240.02 113.5,240.06 114.0,240.11 114.5,240.15 115.0,240.20 115.5,240.24 116.0,240.29 116.5,240.33 117.0,240.38 117.5,240.42 118.0,240.47 118.5,240.36 119.0,240.26 119.5,240.16 120.0,240.06 120.5,239.85 121.0,239.64 121.5,239.43 122.0,239.22 122.5,238.99 123.0,238.77 123.5,239.40 124.0,238.02 124.5,234.38 125.0,227.36 125.5,220.33 126.0,213.30 126.5,210.76 127.0,209.33 127.5,207.91 128.0,209.33 128.5,212.64 129.0,215.96 129.5,219.27 130.0,221.84 130.5,223.30 131.0,224.76 131.5,226.21 132.0,227.67 132.5,229.13 133.0,230.59 133.5,232.04 134.0,233.50 134.5,233.47 135.0,233.45 135.5,233.42 136.0,233.39 136.5,233.37 137.0,233.34 137.5,233.31 138.0,233.29 138.5,233.10 139.0,232.69 139.5,232.27 140.0,231.85 140.5,231.43 141.0,231.02 141.5,230.60 142.0,230.18 142.5,229.76 143.0,229.35 143.5,228.93 144.0,228.51 144.5,228.09 145.0,228.57 145.5,229.77 146.0,230.96 146.5,232.16 147.0,233.35 147.5,234.55 148.0,235.75 148.5,236.94 149.0,238.03 149.5,238.67 150.0,239.32 150.5,239.78 151.0,240.24 151.5,240.70 152.0,241.15 152.5,240.67 153.0,239.55 153.5,238.43 154.0,237.30 154.5,236.18 155.0,235.06 155.5,233.94 156.0,232.82 156.5,231.70 157.0,230.63 157.5,229.59 158.0,228.55 158.5,227.50 159.0,226.46 159.5,225.42 160.0,224.38 160.5,223.34 161.0,222.29 161.5,221.25 162.0,220.21 162.5,219.17 163.0,218.13 163.5,217.08 164.0,216.04 164.5,215.00 165.0,215.80 165.5,216.60 166.0,217.40 166.5,218.20 167.0,219.00 167.5,219.80 168.0,220.60 168.5,221.40 169.0,222.20 169.5,223.00 170.0,223.80 170.5,224.60 171.0,225.36 171.5,225.99 172.0,226.61 172.5,227.24 173.0,227.86 173.5,228.49 174.0,229.11 174.5,229.74 175.0,230.37 175.5,230.99 176.0,231.62 176.5,232.19 177.0,232.21 177.5,232.10 178.0,231.98 178.5,231.86 179.0,231.74 179.5,231.63 180.0,231.51 180.5,231.39 181.0,231.27 181.5,231.16 182.0,231.56 182.5,232.10 183.0,232.63 183.5,233.17 184.0,233.71 184.5,234.25 185.0,234.78 185.5,235.04 186.0,235.22 186.5,235.41 187.0,235.59 187.5,235.78 188.0,235.96 188.5,236.15 189.0,236.33 189.5,236.61 190.0,237.23 190.5,237.83 191.0,238.43 191.5,239.03 192.0,239.63 192.5,240.23 193.0,240.71 193.5,240.71 194.0,240.71 194.5,240.71 195.0,240.71 195.5,240.71 196.0,240.71 196.5,240.71 197.0,240.71 197.5,240.71 198.0,240.71 198.5,240.71 199.0,240.71 199.5,240.71 200.0,240.71 200.5,240.51 201.0,240.31 201.5,240.11 202.0,239.91 202.5,239.71 203.0,239.51 203.5,239.31 204.0,239.31 204.5,239.31 205.0,239.31 205.5,239.31 206.0,239.31 206.5,239.31 207.0,239.31 207.5,239.31 208.0,239.31 208.5,239.31 209.0,239.31 209.5,239.31 210.0,239.31 210.5,239.31 211.0,239.31 211.5,239.31 212.0,239.31 212.5,239.31 213.0,239.37 213.5,239.47 214.0,239.58 214.5,239.68 215.0,239.78 215.5,239.89 216.0,239.99 216.5,240.09 217.0,240.19 217.5,240.30 218.0,240.40 218.5,240.50 219.0,240.61 219.5,240.71 220.0,240.81 220.5,240.91 221.0,241.02 221.5,241.12 222.0,241.22 222.5,241.32 223.0,241.43 223.5,241.51 224.0,241.51 224.5,241.51 225.0,241.51 225.5,241.51 226.0,241.51 226.5,241.51 227.0,241.51 227.5,241.51 228.0,241.51 228.5,241.51 229.0,241.51 229.5,241.51 230.0,241.51 230.5,241.51 231.0,241.51 231.5,241.51 232.0,241.51 232.5,241.51 233.0,241.51 233.5,241.51 234.0,241.51 234.5,241.51 235.0,241.40 235.5,240.65 236.0,238.46 236.5,237.44 237.0,237.33 237.5,237.32 238.0,237.31 238.5,237.31 239.0,237.30 239.5,237.29 240.0,237.29 240.5,237.28 241.0,237.27 241.5,237.27 242.0,237.26 242.5,237.25 243.0,237.25 243.5,237.24 244.0,237.23 244.5,237.23 245.0,237.22 245.5,237.21 246.0,237.21 246.5,237.20 247.0,237.19 247.5,237.19 248.0,237.18 248.5,237.17 249.0,237.17 249.5,237.16 250.0,237.15 250.5,237.15 251.0,237.14 251.5,237.13 252.0,237.17 252.5,237.22 253.0,237.28 253.5,237.34 254.0,237.40 254.5,237.46 255.0,237.52 255.5,237.58 256.0,237.64 256.5,237.69 257.0,237.75 257.5,237.81 258.0,237.87 258.5,237.93 259.0,237.99 259.5,238.05 260.0,238.11 260.5,238.05 261.0,237.93 261.5,237.80 262.0,237.67 262.5,237.54 263.0,237.41 263.5,237.29 264.0,237.16 264.5,237.03 265.0,236.90 265.5,236.77 266.0,236.65 266.5,236.52 267.0,236.39 267.5,236.26 268.0,236.13 268.5,236.01 269.0,235.98 269.5,236.10 270.0,236.23 270.5,236.35 271.0,236.48 271.5,236.60 272.0,236.73 272.5,236.97 273.0,237.21 273.5,237.45 274.0,237.69 274.5,237.87 275.0,237.81 275.5,237.74 276.0,237.67 276.5,237.54 277.0,237.41 277.5,237.27 278.0,237.14 278.5,237.01 279.0,236.88 279.5,236.74 280.0,236.61 280.5,236.10 281.0,235.49 281.5,234.89 282.0,234.28 282.5,233.38 283.0,232.48 283.5,231.58 284.0,230.68 284.5,229.78 285.0,228.88 285.5,229.45 286.0,230.01 286.5,230.58 287.0,231.15 287.5,231.71 288.0,232.28 288.5,233.44 289.0,234.59 289.5,235.75 290.0,236.90 290.5,238.34 291.0,238.78 291.5,239.23 292.0,239.67 292.5,240.11 293.0,240.55 293.5,241.00 294.0,241.44 294.5,241.77 295.0,241.93 295.5,242.10 296.0,242.26 296.5,242.32 297.0,242.38 297.5,242.44 298.0,242.50 298.5,242.56 299.0,242.68 299.5,242.81 300.0,242.93 300.5,243.05 301.0,243.17 301.5,243.30 302.0,243.42 302.5,243.54 303.0,243.67 303.5,243.79 304.0,243.91 304.5,243.96 305.0,243.96 305.5,243.96 306.0,243.96 306.5,243.96 307.0,243.96 307.5,243.96 308.0,243.96 308.5,243.96 309.0,243.96 309.5,243.96 310.0,243.96 310.5,243.96 311.0,243.96 311.5,243.96 312.0,243.96 312.5,243.96 313.0,243.96 313.5,243.96 314.0,243.96 314.5,243.96 315.0,243.96 315.5,243.96 316.0,243.96 316.5,243.96 317.0,243.96 317.5,243.96 318.0,243.96 318.5,243.96 319.0,243.96 319.5,243.96 320.0,243.96 320.5,243.96 321.0,243.96 321.5,243.96 322.0,243.96 322.5,243.96 323.0,243.96 323.5,243.96 324.0,243.96 324.5,243.96 325.0,243.96 325.5,243.96 326.0,243.96 326.5,243.96 327.0,243.96 327.5,243.96 328.0,243.96 328.5,243.96 329.0,243.96 329.5,243.96 330.0,243.96 330.5,243.95 331.0,243.94 331.5,243.93 332.0,243.92 332.5,243.92 333.0,243.91 333.5,243.90 334.0,243.89 334.5,243.88 335.0,243.87 335.5,243.86 336.0,243.85 336.5,243.84 337.0,243.84 337.5,243.83 338.0,243.82 338.5,243.81 339.0,243.80 339.5,243.79 340.0,243.78 340.5,243.77 341.0,243.76 341.5,243.76 342.0,243.75 342.5,243.74 343.0,243.73 343.5,243.72 344.0,243.71 344.5,243.70 345.0,243.69 345.5,243.68 346.0,243.68 346.5,243.67 347.0,243.66 347.5,243.65 348.0,243.64 348.5,243.63 349.0,243.62 349.5,243.61 350.0,243.60 350.5,243.60 351.0,243.59 351.5,243.58 352.0,243.57 352.5,243.56 353.0,243.55 353.5,243.54 354.0,243.53 354.5,243.52 355.0,243.52 355.5,243.51 356.0,243.50 356.5,243.49 357.0,243.48 357.5,243.47 358.0,243.46 358.5,243.37 359.0,243.26 359.5,243.14 360.0,243.03 360.5,242.92 361.0,242.81 361.5,242.64 362.0,242.45 362.5,242.25 363.0,242.05 363.5,241.86 364.0,241.66 364.5,241.46 365.0,241.27 365.5,241.07 366.0,240.87 366.5,240.61 367.0,240.24 367.5,239.72 368.0,239.21 368.5,238.69 369.0,238.18 369.5,237.66 370.0,237.14 370.5,236.63 371.0,236.11 371.5,235.59 372.0,235.50 372.5,234.71 373.0,233.92 373.5,233.13 374.0,232.34 374.5,231.55 375.0,230.76 375.5,229.97 376.0,228.50 376.5,226.00 377.0,223.50 377.5,221.42 378.0,221.04 378.5,220.10 379.0,219.96 379.5,219.88 380.0,219.50 380.5,219.50 381.0,219.50 381.5,219.50 382.0,219.50 382.5,219.50 383.0,219.50 383.5,219.50 384.0,219.50 384.5,219.50 385.0,219.50 385.5,219.50 386.0,219.50 386.5,219.02 387.0,218.54 387.5,218.07 388.0,217.59 388.5,216.79 389.0,215.53 389.5,214.26 390.0,213.00 390.5,210.10 391.0,207.20 391.5,204.30 392.0,201.32 392.5,198.33 393.0,195.35 393.5,192.37 394.0,189.38 394.5,186.40 395.0,185.59 395.5,184.78 396.0,183.97 396.5,183.16 397.0,182.35 397.5,181.54 398.0,180.72 398.5,181.01 399.0,182.02 399.5,183.04 400.0,184.05 400.5,185.06 401.0,186.08 401.5,187.09 402.0,188.22 402.5,189.84 403.0,191.46 403.5,193.07 404.0,194.69 404.5,196.31 405.0,197.82 405.5,198.94 406.0,200.06 406.5,201.17 407.0,202.29 407.5,203.41 408.0,204.35 408.5,204.60 409.0,204.85 409.5,205.10 410.0,205.35 410.5,205.60 411.0,206.51 411.5,210.05 412.0,213.58 412.5,218.50 413.0,224.31 413.5,230.08 414.0,235.85 414.5,238.20 415.0,239.70 415.5,241.20 416.0,241.83 416.5,241.89 417.0,241.95 417.5,242.01 418.0,242.07 418.5,242.13 419.0,242.18 419.5,242.24 420.0,242.30 420.5,242.30 421.0,242.30 421.5,242.30 422.0,242.30 422.5,242.30 423.0,242.30 423.5,242.30 424.0,242.30 424.5,242.30 425.0,242.30 425.5,242.30 426.0,242.30 426.5,242.30 427.0,242.30 427.5,242.30 428.0,242.30 428.5,242.30 429.0,242.30 429.5,242.30 430.0,242.30 430.5,242.30 431.0,242.30 431.5,242.30 432.0,242.30 432.5,242.30 433.0,242.30 433.5,242.30 434.0,242.30 434.5,242.30 435.0,242.30 435.5,242.30 436.0,242.30 436.5,242.30 437.0,242.30 437.5,242.30 438.0,242.30 438.5,242.30 439.0,242.30 439.5,242.30 440.0,242.30 440.5,238.03 441.0,232.66 441.5,227.10 442.0,221.54 442.5,216.95 443.0,216.18 443.5,215.42 444.0,212.45 444.5,208.52 445.0,204.60 445.5,200.93 446.0,197.25 446.5,193.58 447.0,189.91 447.5,186.23 448.0,183.90 448.5,181.90 449.0,179.90 449.5,177.90 450.0,177.54 450.5,179.63 451.0,181.73 451.5,183.82 452.0,186.00 452.5,188.50 453.0,191.00 453.5,193.50 454.0,196.00 454.5,198.50 455.0,198.67 455.5,198.25 456.0,197.83 456.5,197.42 457.0,197.00 457.5,196.61 458.0,196.22 458.5,195.83 459.0,195.44 459.5,195.06 460.0,194.67 460.5,194.28 461.0,195.67 461.5,197.50 462.0,199.33 462.5,201.17 463.0,203.00 463.5,204.48 464.0,205.97 464.5,207.45 465.0,208.93 465.5,210.41 466.0,211.84 466.5,213.04 467.0,214.24 467.5,215.44 468.0,216.64 468.5,217.84 469.0,219.04 469.5,219.98 470.0,219.87 470.5,219.76 471.0,219.65 471.5,219.55 472.0,219.44 472.5,219.33 473.0,219.22 473.5,219.12 474.0,219.01 474.5,218.90 475.0,218.55 475.5,218.20 476.0,217.85 476.5,217.50 477.0,217.15 477.5,216.79 478.0,216.44 478.5,216.09 479.0,215.74 479.5,215.39 480.0,215.04 480.5,215.20 481.0,215.70 481.5,216.20 482.0,216.70 482.5,217.20 483.0,217.70 483.5,218.20 484.0,218.70 484.5,219.10 485.0,219.44 485.5,219.78 486.0,220.11 486.5,220.45 487.0,220.79 487.5,221.12 488.0,221.46 488.5,221.80 489.0,222.13 489.5,223.40 490.0,224.90 490.5,226.40 491.0,227.90 491.5,229.40 492.0,230.90 492.5,231.93 493.0,232.27 493.5,232.61 494.0,232.94 494.5,233.28 495.0,233.62 495.5,233.96 496.0,234.29 496.5,234.63 497.0,234.97 497.5,235.71 498.0,236.72 498.5,237.73 499.0,238.75 499.5,239.76 500.0,240.77 500.5,241.78 501.0,242.80 501.5,243.20 502.0,243.20 502.5,243.20 503.0,243.20 503.5,243.38 504.0,243.37 504.5,243.35 505.0,243.33 505.5,243.31 506.0,243.29 506.5,243.28 507.0,243.26 507.5,243.24 508.0,243.22 508.5,243.20 509.0,243.19 509.5,243.17 510.0,243.15 510.5,243.13 511.0,243.11 511.5,243.09 512.0,243.08 512.5,243.06 513.0,243.04 513.5,243.02 514.0,243.00 514.5,242.99 515.0,242.97 515.5,242.95 516.0,242.93 516.5,242.91 517.0,242.90 517.5,242.88 518.0,242.86 518.5,242.84 519.0,242.82 519.5,242.81 520.0,242.79 520.5,242.72 521.0,242.66 521.5,242.59 522.0,242.53 522.5,242.46 523.0,242.40 523.5,242.33 524.0,242.27 524.5,242.20 525.0,242.14 525.5,242.11 526.0,242.08 526.5,242.05 527.0,242.02 527.5,241.99 528.0,241.96 528.5,241.93 529.0,241.90 529.5,241.87 530.0,241.84 530.5,241.81 531.0,241.78 531.5,241.75 532.0,241.72 532.5,241.69 533.0,241.66 533.5,241.63 534.0,241.60 534.5,241.57 535.0,241.54 535.5,241.51 536.0,241.48 536.5,241.45 537.0,241.42 537.5,241.39 538.0,241.36 538.5,241.33 539.0,241.30 539.5,241.29 540.0,241.28 540.5,241.27 541.0,241.26 541.5,241.24 542.0,241.23 542.5,241.22 543.0,241.21 543.5,241.20 544.0,241.19 544.5,241.18 545.0,241.17 545.5,241.13 546.0,241.08 546.5,241.04 547.0,241.00 547.5,240.96 548.0,240.92 548.5,240.88 549.0,240.84 549.5,240.79 550.0,240.75 550.5,240.71 551.0,240.27 551.5,239.83 552.0,239.38 552.5,238.94 553.0,238.50 553.5,238.05 554.0,237.61 554.5,237.17 555.0,236.43 555.5,235.63 556.0,234.82 556.5,234.02 557.0,233.21 557.5,232.30 558.0,231.24 558.5,230.17 559.0,229.14 559.5,228.13 560.0,227.13 560.5,226.65 561.0,226.18 561.5,225.71 562.0,225.24 562.5,224.77 563.0,224.19 563.5,223.45 564.0,222.72 564.5,221.98 565.0,221.25 565.5,220.51 566.0,217.96 566.5,215.41 567.0,212.87 567.5,210.32 568.0,208.22 568.5,206.32 569.0,204.56 569.5,202.81 570.0,203.43 570.5,204.65 571.0,205.87 571.5,210.98 572.0,216.06 572.5,220.75 573.0,223.99 573.5,227.14 574.0,230.29 574.5,233.02 575.0,234.07 575.5,235.12 576.0,236.14 576.5,237.11 577.0,236.91 577.5,236.70 578.0,236.50 578.5,236.29 579.0,236.09 579.5,235.88 580.0,235.68 580.5,235.36 581.0,235.04 581.5,234.73 582.0,234.36 582.5,233.99 583.0,233.62 583.5,233.25 584.0,232.88 584.5,232.50 585.0,232.13 585.5,231.76 586.0,231.39 586.5,231.02 587.0,230.65 587.5,230.45 588.0,230.95 588.5,231.45 589.0,231.95 589.5,232.45 590.0,232.96 590.5,233.46 591.0,233.96 591.5,234.46 592.0,234.91 592.5,235.21 593.0,235.51 593.5,235.82 594.0,236.12 594.5,236.42 595.0,236.73 595.5,237.03 596.0,237.34 596.5,237.70 597.0,238.05 597.5,238.41 598.0,238.76 598.5,239.12 599.0,239.47 599.5,239.83 600.0,240.18 600.5,240.63 601.0,241.07 601.5,241.51 602.0,241.95 602.5,242.40 603.0,242.84 603.5,242.84 604.0,242.83 604.5,242.83 605.0,242.82 605.5,242.82 606.0,242.81 606.5,242.81 607.0,242.81 607.5,242.80 608.0,242.80 608.5,242.79 609.0,242.79 609.5,242.79 610.0,242.78 610.5,242.78 611.0,242.77 611.5,242.77 612.0,242.77 612.5,242.76 613.0,242.76 613.5,242.75 614.0,242.75 614.5,242.74 615.0,242.74 615.5,242.69 616.0,242.64 616.5,242.59 617.0,242.54 617.5,242.49 618.0,242.44 618.5,242.39 619.0,242.34 619.5,242.29 620.0,242.24 620.5,242.29 621.0,242.34 621.5,242.39 622.0,242.44 622.5,242.49 623.0,242.54 623.5,242.59 624.0,242.64 624.5,242.69 625.0,242.74 625.5,242.79 626.0,242.84 626.5,242.89 627.0,242.94 627.5,242.99 628.0,243.04 628.5,243.09 629.0,243.14 629.5,243.19 630.0,243.24 630.5,243.24 631.0,243.24 631.5,243.24 632.0,243.24 632.5,243.24 633.0,243.24 633.5,243.24 634.0,243.24 634.5,243.24 635.0,243.24 635.5,243.24 636.0,243.24 636.5,243.24 637.0,243.24 637.5,243.24 638.0,243.24 638.5,243.24 639.0,243.24 639.5,243.24 640.0,243.24 640.5,243.24 641.0,243.24 641.5,243.24 642.0,243.24 642.5,243.24 643.0,243.24 643.5,243.24 644.0,243.24 644.5,243.24 645.0,243.24 645.5,243.24 646.0,243.24 646.5,243.24 647.0,243.24 647.5,243.24 648.0,243.24 648.5,243.24 649.0,243.24 649.5,243.24 650.0,243.24 650.5,243.24 651.0,243.24 651.5,243.24 652.0,243.24 652.5,243.24 653.0,243.24 653.5,243.24 654.0,243.24 654.5,243.24 655.0,243.24 655.5,243.24 656.0,243.24 656.5,243.24 657.0,243.24 657.5,243.24 658.0,243.24 658.5,243.24 659.0,243.24 659.5,243.24 660.0,243.24 660.5,243.24 661.0,243.24 661.5,243.24 662.0,243.24 662.5,243.24 663.0,243.24 663.5,243.24 664.0,243.24 664.5,243.24 665.0,243.24 665.5,243.24 666.0,243.24 666.5,243.24 667.0,243.24 667.5,243.24 668.0,243.24 668.5,243.24 669.0,243.24 669.5,243.24 670.0,243.24 670.5,243.24 670.6,243.24 L670.6,245.5 Z"/>
<path fill="#3a7db5" d="M106.0,245.5 L106.0,242.83 106.5,242.86 107.0,242.89 107.5,242.92 108.0,242.95 108.5,242.96 109.0,242.98 109.5,242.99 110.0,243.00 110.5,243.01 111.0,243.03 111.5,243.03 112.0,243.03 112.5,243.04 113.0,243.04 113.5,243.04 114.0,243.05 114.5,243.05 115.0,243.05 115.5,243.06 116.0,243.06 116.5,243.06 117.0,243.07 117.5,243.07 118.0,243.08 118.5,243.07 119.0,243.06 119.5,243.05 120.0,243.04 120.5,242.93 121.0,242.81 121.5,242.70 122.0,242.59 122.5,242.47 123.0,242.35 123.5,240.80 124.0,239.47 124.5,235.87 125.0,228.89 125.5,221.90 126.0,214.92 126.5,212.42 127.0,211.04 127.5,209.65 128.0,211.06 128.5,214.32 129.0,217.58 129.5,220.84 130.0,223.36 130.5,224.77 131.0,226.17 131.5,227.58 132.0,228.98 132.5,230.39 133.0,231.79 133.5,233.20 134.0,234.60 134.5,234.59 135.0,234.57 135.5,234.56 136.0,234.55 136.5,234.54 137.0,234.52 137.5,234.51 138.0,234.50 138.5,234.33 139.0,233.93 139.5,233.52 140.0,233.12 140.5,232.72 141.0,232.31 141.5,231.91 142.0,231.51 142.5,231.10 143.0,230.70 143.5,230.30 144.0,229.89 144.5,229.49 145.0,229.98 145.5,231.12 146.0,232.26 146.5,233.41 147.0,234.55 147.5,235.69 148.0,236.84 148.5,237.98 149.0,239.01 149.5,239.61 150.0,240.20 150.5,240.70 151.0,241.21 151.5,241.71 152.0,242.22 152.5,241.77 153.0,240.70 153.5,239.62 154.0,238.55 154.5,237.47 155.0,236.40 155.5,235.32 156.0,234.25 156.5,233.18 157.0,232.15 157.5,231.15 158.0,230.15 158.5,229.16 159.0,228.16 159.5,227.17 160.0,226.17 160.5,225.17 161.0,224.18 161.5,223.18 162.0,222.18 162.5,221.19 163.0,220.19 163.5,219.19 164.0,218.20 164.5,217.20 165.0,217.96 165.5,218.72 166.0,219.48 166.5,220.25 167.0,221.01 167.5,221.77 168.0,222.53 168.5,223.29 169.0,224.05 169.5,224.81 170.0,225.57 170.5,226.34 171.0,227.06 171.5,227.65 172.0,228.24 172.5,228.82 173.0,229.41 173.5,230.00 174.0,230.59 174.5,231.17 175.0,231.76 175.5,232.35 176.0,232.94 176.5,233.50 177.0,233.51 177.5,233.38 178.0,233.25 178.5,233.12 179.0,232.99 179.5,232.86 180.0,232.73 180.5,232.60 181.0,232.48 181.5,232.35 182.0,232.74 182.5,233.27 183.0,233.79 183.5,234.31 184.0,234.84 184.5,235.37 185.0,235.89 185.5,236.13 186.0,236.31 186.5,236.48 187.0,236.65 187.5,236.83 188.0,237.00 188.5,237.17 189.0,237.35 189.5,237.61 190.0,238.22 190.5,238.82 191.0,239.42 191.5,240.02 192.0,240.62 192.5,241.22 193.0,241.70 193.5,241.70 194.0,241.70 194.5,241.70 195.0,241.70 195.5,241.70 196.0,241.70 196.5,241.70 197.0,241.70 197.5,241.70 198.0,241.70 198.5,241.70 199.0,241.70 199.5,241.70 200.0,241.70 200.5,241.50 201.0,241.30 201.5,241.10 202.0,240.90 202.5,240.70 203.0,240.50 203.5,240.30 204.0,240.30 204.5,240.30 205.0,240.30 205.5,240.30 206.0,240.30 206.5,240.30 207.0,240.30 207.5,240.30 208.0,240.30 208.5,240.30 209.0,240.30 209.5,240.30 210.0,240.30 210.5,240.30 211.0,240.30 211.5,240.30 212.0,240.30 212.5,240.30 213.0,240.36 213.5,240.46 214.0,240.57 214.5,240.67 215.0,240.77 215.5,240.88 216.0,240.98 216.5,241.08 217.0,241.18 217.5,241.29 218.0,241.39 218.5,241.49 219.0,241.60 219.5,241.70 220.0,241.80 220.5,241.90 221.0,242.01 221.5,242.11 222.0,242.21 222.5,242.31 223.0,242.42 223.5,242.50 224.0,242.50 224.5,242.50 225.0,242.50 225.5,242.50 226.0,242.50 226.5,242.50 227.0,242.50 227.5,242.50 228.0,242.50 228.5,242.50 229.0,242.50 229.5,242.50 230.0,242.50 230.5,242.50 231.0,242.50 231.5,242.50 232.0,242.50 232.5,242.50 233.0,242.50 233.5,242.50 234.0,242.50 234.5,242.50 235.0,242.39 235.5,241.93 236.0,242.04 236.5,241.69 237.0,241.58 237.5,241.57 238.0,241.56 238.5,241.56 239.0,241.55 239.5,241.54 240.0,241.54 240.5,241.53 241.0,241.52 241.5,241.52 242.0,241.51 242.5,241.50 243.0,241.50 243.5,241.49 244.0,241.48 244.5,241.48 245.0,241.47 245.5,241.46 246.0,241.46 246.5,241.45 247.0,241.44 247.5,241.44 248.0,241.43 248.5,241.42 249.0,241.42 249.5,241.41 250.0,241.40 250.5,241.40 251.0,241.39 251.5,241.38 252.0,241.42 252.5,241.47 253.0,241.53 253.5,241.59 254.0,241.65 254.5,241.71 255.0,241.77 255.5,241.83 256.0,241.89 256.5,241.94 257.0,242.00 257.5,242.06 258.0,242.12 258.5,242.18 259.0,242.24 259.5,242.30 260.0,242.36 260.5,242.30 261.0,242.18 261.5,242.05 262.0,241.92 262.5,241.79 263.0,241.66 263.5,241.54 264.0,241.41 264.5,241.28 265.0,241.15 265.5,241.02 266.0,240.90 266.5,240.77 267.0,240.64 267.5,240.51 268.0,240.38 268.5,240.26 269.0,240.23 269.5,240.35 270.0,240.48 270.5,240.60 271.0,240.73 271.5,240.85 272.0,240.98 272.5,241.13 273.0,241.28 273.5,241.42 274.0,241.57 274.5,241.66 275.0,241.49 275.5,241.33 276.0,241.17 276.5,241.00 277.0,240.82 277.5,240.65 278.0,240.47 278.5,240.30 279.0,240.13 279.5,239.95 280.0,239.78 280.5,239.22 281.0,238.58 281.5,237.93 282.0,237.28 282.5,236.38 283.0,235.48 283.5,234.58 284.0,233.68 284.5,232.78 285.0,231.88 285.5,232.45 286.0,233.01 286.5,233.58 287.0,234.15 287.5,234.71 288.0,235.28 288.5,236.31 289.0,237.34 289.5,238.37 290.0,239.40 290.5,239.39 291.0,239.77 291.5,240.16 292.0,240.55 292.5,240.94 293.0,241.32 293.5,241.71 294.0,242.10 294.5,242.37 295.0,242.48 295.5,242.59 296.0,242.70 296.5,242.76 297.0,242.82 297.5,242.88 298.0,242.94 298.5,243.00 299.0,243.12 299.5,243.25 300.0,243.37 300.5,243.49 301.0,243.61 301.5,243.74 302.0,243.86 302.5,243.98 303.0,244.11 303.5,244.23 304.0,244.35 304.5,244.40 305.0,244.40 305.5,244.40 306.0,244.40 306.5,244.40 307.0,244.40 307.5,244.40 308.0,244.40 308.5,244.40 309.0,244.40 309.5,244.40 310.0,244.40 310.5,244.40 311.0,244.40 311.5,244.40 312.0,244.40 312.5,244.40 313.0,244.40 313.5,244.40 314.0,244.40 314.5,244.40 315.0,244.40 315.5,244.40 316.0,244.40 316.5,244.40 317.0,244.40 317.5,244.40 318.0,244.40 318.5,244.40 319.0,244.40 319.5,244.40 320.0,244.40 320.5,244.40 321.0,244.40 321.5,244.40 322.0,244.40 322.5,244.40 323.0,244.40 323.5,244.40 324.0,244.40 324.5,244.40 325.0,244.40 325.5,244.40 326.0,244.40 326.5,244.40 327.0,244.40 327.5,244.40 328.0,244.40 328.5,244.40 329.0,244.40 329.5,244.40 330.0,244.40 330.5,244.39 331.0,244.38 331.5,244.37 332.0,244.36 332.5,244.36 333.0,244.35 333.5,244.34 334.0,244.33 334.5,244.32 335.0,244.31 335.5,244.30 336.0,244.29 336.5,244.28 337.0,244.28 337.5,244.27 338.0,244.26 338.5,244.25 339.0,244.24 339.5,244.23 340.0,244.22 340.5,244.21 341.0,244.20 341.5,244.20 342.0,244.19 342.5,244.18 343.0,244.17 343.5,244.16 344.0,244.15 344.5,244.14 345.0,244.13 345.5,244.12 346.0,244.12 346.5,244.11 347.0,244.10 347.5,244.09 348.0,244.08 348.5,244.07 349.0,244.06 349.5,244.05 350.0,244.04 350.5,244.04 351.0,244.03 351.5,244.02 352.0,244.01 352.5,244.00 353.0,243.99 353.5,243.98 354.0,243.97 354.5,243.96 355.0,243.96 355.5,243.95 356.0,243.94 356.5,243.93 357.0,243.92 357.5,243.91 358.0,243.90 358.5,243.81 359.0,243.70 359.5,243.58 360.0,243.47 360.5,243.36 361.0,243.25 361.5,243.08 362.0,242.89 362.5,242.69 363.0,242.49 363.5,242.30 364.0,242.10 364.5,241.90 365.0,241.71 365.5,241.51 366.0,241.31 366.5,241.08 367.0,240.75 367.5,240.28 368.0,239.80 368.5,239.32 369.0,238.84 369.5,238.36 370.0,237.88 370.5,237.40 371.0,236.92 371.5,236.44 372.0,236.16 372.5,235.64 373.0,234.81 373.5,233.99 374.0,233.16 374.5,232.34 375.0,231.52 375.5,230.69 376.0,229.21 376.5,226.74 377.0,224.27 377.5,222.10 378.0,221.10 378.5,220.10 379.0,219.96 379.5,220.03 380.0,220.10 380.5,220.22 381.0,220.33 381.5,220.45 382.0,220.56 382.5,220.68 383.0,220.70 383.5,220.70 384.0,220.70 384.5,220.70 385.0,220.70 385.5,220.70 386.0,220.90 386.5,221.40 387.0,221.90 387.5,222.40 388.0,222.90 388.5,223.40 389.0,223.90 389.5,224.40 390.0,224.68 390.5,224.06 391.0,223.44 391.5,222.82 392.0,222.20 392.5,221.58 393.0,220.97 393.5,220.35 394.0,220.35 394.5,220.78 395.0,221.20 395.5,221.62 396.0,222.04 396.5,222.46 397.0,222.89 397.5,223.31 398.0,223.73 398.5,223.97 399.0,224.09 399.5,224.20 400.0,224.32 400.5,224.44 401.0,224.55 401.5,224.72 402.0,224.92 402.5,225.13 403.0,225.33 403.5,225.53 404.0,225.74 404.5,225.94 405.0,226.02 405.5,225.63 406.0,225.23 406.5,224.84 407.0,224.44 407.5,224.05 408.0,223.65 408.5,223.26 409.0,223.03 409.5,222.91 410.0,222.79 410.5,222.67 411.0,222.54 411.5,222.42 412.0,222.84 412.5,223.40 413.0,227.87 413.5,232.34 414.0,236.81 414.5,238.72 415.0,240.01 415.5,241.29 416.0,241.86 416.5,241.95 417.0,242.04 417.5,242.13 418.0,242.23 418.5,242.32 419.0,242.41 419.5,242.51 420.0,242.60 420.5,242.60 421.0,242.60 421.5,242.61 422.0,242.61 422.5,242.61 423.0,242.62 423.5,242.62 424.0,242.62 424.5,242.62 425.0,242.62 425.5,242.63 426.0,242.63 426.5,242.63 427.0,242.63 427.5,242.64 428.0,242.64 428.5,242.64 429.0,242.65 429.5,242.65 430.0,242.65 430.5,242.65 431.0,242.66 431.5,242.66 432.0,242.66 432.5,242.66 433.0,242.67 433.5,242.67 434.0,242.67 434.5,242.67 435.0,242.68 435.5,242.68 436.0,242.68 436.5,242.68 437.0,242.69 437.5,242.69 438.0,242.69 438.5,242.69 439.0,242.70 439.5,242.70 440.0,242.70 440.5,238.03 441.0,232.66 441.5,227.10 442.0,221.54 442.5,216.95 443.0,216.18 443.5,215.42 444.0,214.65 444.5,212.35 445.0,209.65 445.5,206.96 446.0,204.27 446.5,201.58 447.0,199.38 447.5,197.51 448.0,195.64 448.5,193.76 449.0,191.89 449.5,190.02 450.0,189.84 450.5,192.20 451.0,194.56 451.5,196.91 452.0,199.15 452.5,200.89 453.0,202.63 453.5,204.38 454.0,206.12 454.5,207.86 455.0,209.61 455.5,211.20 456.0,212.20 456.5,213.20 457.0,214.20 457.5,215.20 458.0,216.20 458.5,217.20 459.0,218.10 459.5,218.58 460.0,219.07 460.5,219.55 461.0,220.04 461.5,220.53 462.0,221.01 462.5,221.65 463.0,222.89 463.5,224.13 464.0,225.38 464.5,226.62 465.0,227.86 465.5,229.11 466.0,230.20 466.5,230.70 467.0,231.20 467.5,231.70 468.0,232.20 468.5,232.70 469.0,233.20 469.5,233.65 470.0,233.90 470.5,234.15 471.0,234.40 471.5,234.65 472.0,234.90 472.5,234.85 473.0,234.80 473.5,234.76 474.0,234.71 474.5,234.66 475.0,234.61 475.5,234.57 476.0,234.52 476.5,234.29 477.0,233.95 477.5,233.61 478.0,233.26 478.5,232.92 479.0,232.58 479.5,232.23 480.0,231.89 480.5,231.54 481.0,231.20 481.5,231.38 482.0,231.55 482.5,231.73 483.0,231.91 483.5,232.09 484.0,232.26 484.5,232.44 485.0,232.62 485.5,232.79 486.0,232.93 486.5,233.01 487.0,233.10 487.5,233.18 488.0,233.26 488.5,233.34 489.0,233.42 489.5,233.50 490.0,233.59 490.5,233.67 491.0,234.15 491.5,234.90 492.0,235.65 492.5,236.10 493.0,236.10 493.5,236.10 494.0,236.10 494.5,236.10 495.0,236.25 495.5,236.49 496.0,236.73 496.5,236.97 497.0,237.22 497.5,237.46 498.0,237.70 498.5,238.67 499.0,239.64 499.5,240.61 500.0,241.58 500.5,242.54 501.0,243.51 501.5,243.89 502.0,243.88 502.5,243.87 503.0,243.85 503.5,243.94 504.0,243.92 504.5,243.91 505.0,243.89 505.5,243.87 506.0,243.86 506.5,243.84 507.0,243.83 507.5,243.81 508.0,243.80 508.5,243.78 509.0,243.77 509.5,243.75 510.0,243.73 510.5,243.72 511.0,243.70 511.5,243.69 512.0,243.67 512.5,243.66 513.0,243.64 513.5,243.63 514.0,243.61 514.5,243.59 515.0,243.58 515.5,243.56 516.0,243.55 516.5,243.53 517.0,243.52 517.5,243.50 518.0,243.49 518.5,243.47 519.0,243.45 519.5,243.44 520.0,243.42 520.5,243.36 521.0,243.30 521.5,243.24 522.0,243.17 522.5,243.11 523.0,243.05 523.5,242.99 524.0,242.92 524.5,242.86 525.0,242.80 525.5,242.77 526.0,242.74 526.5,242.71 527.0,242.68 527.5,242.64 528.0,242.61 528.5,242.58 529.0,242.55 529.5,242.52 530.0,242.49 530.5,242.46 531.0,242.43 531.5,242.40 532.0,242.36 532.5,242.33 533.0,242.30 533.5,242.27 534.0,242.24 534.5,242.21 535.0,242.18 535.5,242.15 536.0,242.11 536.5,242.08 537.0,242.05 537.5,242.02 538.0,241.99 538.5,241.96 539.0,241.93 539.5,241.92 540.0,241.90 540.5,241.89 541.0,241.88 541.5,241.87 542.0,241.86 542.5,241.84 543.0,241.83 543.5,241.82 544.0,241.81 544.5,241.80 545.0,241.78 545.5,241.76 546.0,241.73 546.5,241.70 547.0,241.68 547.5,241.65 548.0,241.62 548.5,241.60 549.0,241.57 549.5,241.54 550.0,241.52 550.5,241.49 551.0,241.06 551.5,240.63 552.0,240.21 552.5,239.78 553.0,239.35 553.5,238.92 554.0,238.49 554.5,238.07 555.0,237.36 555.5,236.57 556.0,235.79 556.5,235.01 557.0,234.23 557.5,233.35 558.0,232.30 558.5,231.26 559.0,230.24 559.5,229.23 560.0,228.21 560.5,227.74 561.0,227.26 561.5,226.78 562.0,226.30 562.5,225.83 563.0,225.24 563.5,224.49 564.0,223.74 564.5,223.00 565.0,222.25 565.5,221.50 566.0,219.09 566.5,216.68 567.0,214.27 567.5,211.86 568.0,209.90 568.5,208.09 569.0,206.35 569.5,204.61 570.0,205.14 570.5,206.25 571.0,207.35 571.5,212.35 572.0,217.33 572.5,221.94 573.0,225.09 573.5,228.20 574.0,231.31 574.5,234.00 575.0,235.01 575.5,236.03 576.0,237.02 576.5,238.00 577.0,237.79 577.5,237.59 578.0,237.39 578.5,237.19 579.0,236.98 579.5,236.78 580.0,236.58 580.5,236.37 581.0,236.15 581.5,235.94 582.0,235.68 582.5,235.41 583.0,235.13 583.5,234.85 584.0,234.57 584.5,234.29 585.0,234.02 585.5,233.74 586.0,233.46 586.5,233.18 587.0,232.90 587.5,232.76 588.0,233.18 588.5,233.59 589.0,234.01 589.5,234.42 590.0,234.84 590.5,235.26 591.0,235.67 591.5,236.09 592.0,236.45 592.5,236.72 593.0,237.00 593.5,237.28 594.0,237.55 594.5,237.82 595.0,238.10 595.5,238.38 596.0,238.66 596.5,238.99 597.0,239.32 597.5,239.64 598.0,239.97 598.5,240.30 599.0,240.63 599.5,240.96 600.0,241.28 600.5,241.65 601.0,242.02 601.5,242.39 602.0,242.76 602.5,243.13 603.0,243.50 603.5,243.50 604.0,243.49 604.5,243.49 605.0,243.48 605.5,243.48 606.0,243.47 606.5,243.47 607.0,243.47 607.5,243.46 608.0,243.46 608.5,243.45 609.0,243.45 609.5,243.45 610.0,243.44 610.5,243.44 611.0,243.43 611.5,243.43 612.0,243.43 612.5,243.42 613.0,243.42 613.5,243.41 614.0,243.41 614.5,243.40 615.0,243.40 615.5,243.35 616.0,243.30 616.5,243.25 617.0,243.20 617.5,243.15 618.0,243.10 618.5,243.05 619.0,243.00 619.5,242.95 620.0,242.90 620.5,242.95 621.0,243.00 621.5,243.05 622.0,243.10 622.5,243.15 623.0,243.20 623.5,243.25 624.0,243.30 624.5,243.35 625.0,243.40 625.5,243.45 626.0,243.50 626.5,243.55 627.0,243.60 627.5,243.65 628.0,243.70 628.5,243.75 629.0,243.80 629.5,243.85 630.0,243.90 630.5,243.90 631.0,243.90 631.5,243.90 632.0,243.90 632.5,243.90 633.0,243.90 633.5,243.90 634.0,243.90 634.5,243.90 635.0,243.90 635.5,243.90 636.0,243.90 636.5,243.90 637.0,243.90 637.5,243.90 638.0,243.90 638.5,243.90 639.0,243.90 639.5,243.90 640.0,243.90 640.5,243.90 641.0,243.90 641.5,243.90 642.0,243.90 642.5,243.90 643.0,243.90 643.5,243.90 644.0,243.90 644.5,243.90 645.0,243.90 645.5,243.90 646.0,243.90 646.5,243.90 647.0,243.90 647.5,243.90 648.0,243.90 648.5,243.90 649.0,243.90 649.5,243.90 650.0,243.90 650.5,243.90 651.0,243.90 651.5,243.90 652.0,243.90 652.5,243.90 653.0,243.90 653.5,243.90 654.0,243.90 654.5,243.90 655.0,243.90 655.5,243.90 656.0,243.90 656.5,243.90 657.0,243.90 657.5,243.90 658.0,243.90 658.5,243.90 659.0,243.90 659.5,243.90 660.0,243.90 660.5,243.90 661.0,243.90 661.5,243.90 662.0,243.90 662.5,243.90 663.0,243.90 663.5,243.90 664.0,243.90 664.5,243.90 665.0,243.90 665.5,243.90 666.0,243.90 666.5,243.90 667.0,243.90 667.5,243.90 668.0,243.90 668.5,243.90 669.0,243.90 669.5,243.90 670.0,243.90 670.5,243.90 670.6,243.90 L670.6,245.5 Z"/>
<path fill="#c62a3a" d="M106.0,245.5 L106.0,243.30 106.5,243.30 107.0,243.30 107.5,243.30 108.0,243.30 108.5,243.30 109.0,243.30 109.5,243.30 110.0,243.30 110.5,243.30 111.0,243.30 111.5,243.30 112.0,243.30 112.5,243.30 113.0,243.30 113.5,243.30 114.0,243.30 114.5,243.30 115.0,243.30 115.5,243.30 116.0,243.30 116.5,243.30 117.0,243.30 117.5,243.30 118.0,243.30 118.5,243.30 119.0,243.30 119.5,243.30 120.0,243.30 120.5,243.19 121.0,243.09 121.5,242.98 122.0,242.88 122.5,242.77 123.0,242.66 123.5,242.08 124.0,240.78 124.5,237.22 125.0,230.28 125.5,223.33 126.0,216.39 126.5,213.92 127.0,212.58 127.5,211.24 128.0,212.63 128.5,215.84 129.0,219.06 129.5,222.27 130.0,224.74 130.5,226.10 131.0,227.46 131.5,228.81 132.0,230.17 132.5,231.53 133.0,232.89 133.5,234.24 134.0,235.60 134.5,235.60 135.0,235.60 135.5,235.60 136.0,235.60 136.5,235.60 137.0,235.60 137.5,235.60 138.0,235.60 138.5,235.44 139.0,235.05 139.5,234.66 140.0,234.27 140.5,233.88 141.0,233.49 141.5,233.10 142.0,232.71 142.5,232.32 143.0,231.93 143.5,231.54 144.0,231.15 144.5,230.76 145.0,231.26 145.5,232.35 146.0,233.45 146.5,234.54 147.0,235.64 147.5,236.73 148.0,237.83 148.5,238.92 149.0,239.91 149.5,240.45 150.0,241.00 150.5,241.55 151.0,242.09 151.5,242.64 152.0,243.18 152.5,242.78 153.0,241.75 153.5,240.71 154.0,239.68 154.5,238.65 155.0,237.61 155.5,236.58 156.0,235.55 156.5,234.51 157.0,233.53 157.5,232.57 158.0,231.62 158.5,230.66 159.0,229.71 159.5,228.75 160.0,227.80 160.5,226.84 161.0,225.89 161.5,224.93 162.0,223.98 162.5,223.02 163.0,222.07 163.5,221.11 164.0,220.16 164.5,219.20 165.0,219.93 165.5,220.65 166.0,221.38 166.5,222.11 167.0,222.83 167.5,223.56 168.0,224.29 168.5,225.01 169.0,225.74 169.5,226.47 170.0,227.19 170.5,227.92 171.0,228.61 171.5,229.16 172.0,229.72 172.5,230.27 173.0,230.82 173.5,231.37 174.0,231.93 174.5,232.48 175.0,233.03 175.5,233.58 176.0,234.14 176.5,234.69 177.0,234.69 177.5,234.55 178.0,234.41 178.5,234.27 179.0,234.13 179.5,233.99 180.0,233.85 180.5,233.71 181.0,233.57 181.5,233.43 182.0,233.81 182.5,234.33 183.0,234.84 183.5,235.35 184.0,235.87 184.5,236.38 185.0,236.90 185.5,237.13 186.0,237.29 186.5,237.46 187.0,237.62 187.5,237.78 188.0,237.94 188.5,238.11 189.0,238.27 189.5,238.52 190.0,239.12 190.5,239.72 191.0,240.32 191.5,240.92 192.0,241.52 192.5,242.12 193.0,242.60 193.5,242.60 194.0,242.60 194.5,242.60 195.0,242.60 195.5,242.60 196.0,242.60 196.5,242.60 197.0,242.60 197.5,242.60 198.0,242.60 198.5,242.60 199.0,242.60 199.5,242.60 200.0,242.60 200.5,242.40 201.0,242.20 201.5,242.00 202.0,241.80 202.5,241.60 203.0,241.40 203.5,241.20 204.0,241.20 204.5,241.20 205.0,241.20 205.5,241.20 206.0,241.20 206.5,241.20 207.0,241.20 207.5,241.20 208.0,241.20 208.5,241.20 209.0,241.20 209.5,241.20 210.0,241.20 210.5,241.20 211.0,241.20 211.5,241.20 212.0,241.20 212.5,241.20 213.0,241.26 213.5,241.36 214.0,241.47 214.5,241.57 215.0,241.67 215.5,241.78 216.0,241.88 216.5,241.98 217.0,242.08 217.5,242.19 218.0,242.29 218.5,242.39 219.0,242.50 219.5,242.60 220.0,242.70 220.5,242.80 221.0,242.91 221.5,243.01 222.0,243.11 222.5,243.21 223.0,243.32 223.5,243.40 224.0,243.40 224.5,243.40 225.0,243.40 225.5,243.40 226.0,243.40 226.5,243.40 227.0,243.40 227.5,243.40 228.0,243.40 228.5,243.40 229.0,243.40 229.5,243.40 230.0,243.40 230.5,243.40 231.0,243.40 231.5,243.40 232.0,243.40 232.5,243.40 233.0,243.40 233.5,243.40 234.0,243.40 234.5,243.40 235.0,243.29 235.5,243.10 236.0,242.90 236.5,242.71 237.0,242.60 237.5,242.59 238.0,242.58 238.5,242.58 239.0,242.57 239.5,242.56 240.0,242.56 240.5,242.55 241.0,242.54 241.5,242.54 242.0,242.53 242.5,242.52 243.0,242.52 243.5,242.51 244.0,242.50 244.5,242.50 245.0,242.49 245.5,242.48 246.0,242.48 246.5,242.47 247.0,242.46 247.5,242.46 248.0,242.45 248.5,242.44 249.0,242.44 249.5,242.43 250.0,242.42 250.5,242.42 251.0,242.41 251.5,242.40 252.0,242.44 252.5,242.49 253.0,242.55 253.5,242.61 254.0,242.67 254.5,242.73 255.0,242.79 255.5,242.85 256.0,242.91 256.5,242.96 257.0,243.02 257.5,243.08 258.0,243.14 258.5,243.20 259.0,243.26 259.5,243.32 260.0,243.38 260.5,243.32 261.0,243.20 261.5,243.07 262.0,242.94 262.5,242.81 263.0,242.68 263.5,242.56 264.0,242.43 264.5,242.30 265.0,242.17 265.5,242.04 266.0,241.92 266.5,241.79 267.0,241.66 267.5,241.53 268.0,241.40 268.5,241.28 269.0,241.25 269.5,241.38 270.0,241.50 270.5,241.62 271.0,241.75 271.5,241.88 272.0,242.00 272.5,242.12 273.0,242.25 273.5,242.38 274.0,242.50 274.5,242.56 275.0,242.38 275.5,242.19 276.0,242.01 276.5,241.83 277.0,241.64 277.5,241.46 278.0,241.27 278.5,241.09 279.0,240.91 279.5,240.72 280.0,240.54 280.5,239.97 281.0,239.32 281.5,238.66 282.0,238.00 282.5,237.10 283.0,236.20 283.5,235.30 284.0,234.40 284.5,233.50 285.0,232.60 285.5,233.17 286.0,233.73 286.5,234.30 287.0,234.87 287.5,235.43 288.0,236.00 288.5,237.00 289.0,238.00 289.5,239.00 290.0,240.00 290.5,240.34 291.0,240.67 291.5,241.01 292.0,241.35 292.5,241.69 293.0,242.02 293.5,242.36 294.0,242.70 294.5,242.92 295.0,242.98 295.5,243.04 296.0,243.10 296.5,243.16 297.0,243.22 297.5,243.28 298.0,243.34 298.5,243.40 299.0,243.52 299.5,243.65 300.0,243.77 300.5,243.89 301.0,244.01 301.5,244.14 302.0,244.26 302.5,244.38 303.0,244.51 303.5,244.63 304.0,244.75 304.5,244.80 305.0,244.80 305.5,244.80 306.0,244.80 306.5,244.80 307.0,244.80 307.5,244.80 308.0,244.80 308.5,244.80 309.0,244.80 309.5,244.80 310.0,244.80 310.5,244.80 311.0,244.80 311.5,244.80 312.0,244.80 312.5,244.80 313.0,244.80 313.5,244.80 314.0,244.80 314.5,244.80 315.0,244.80 315.5,244.80 316.0,244.80 316.5,244.80 317.0,244.80 317.5,244.80 318.0,244.80 318.5,244.80 319.0,244.80 319.5,244.80 320.0,244.80 320.5,244.80 321.0,244.80 321.5,244.80 322.0,244.80 322.5,244.80 323.0,244.80 323.5,244.80 324.0,244.80 324.5,244.80 325.0,244.80 325.5,244.80 326.0,244.80 326.5,244.80 327.0,244.80 327.5,244.80 328.0,244.80 328.5,244.80 329.0,244.80 329.5,244.80 330.0,244.80 330.5,244.79 331.0,244.78 331.5,244.77 332.0,244.76 332.5,244.76 333.0,244.75 333.5,244.74 334.0,244.73 334.5,244.72 335.0,244.71 335.5,244.70 336.0,244.69 336.5,244.68 337.0,244.68 337.5,244.67 338.0,244.66 338.5,244.65 339.0,244.64 339.5,244.63 340.0,244.62 340.5,244.61 341.0,244.60 341.5,244.60 342.0,244.59 342.5,244.58 343.0,244.57 343.5,244.56 344.0,244.55 344.5,244.54 345.0,244.53 345.5,244.52 346.0,244.52 346.5,244.51 347.0,244.50 347.5,244.49 348.0,244.48 348.5,244.47 349.0,244.46 349.5,244.45 350.0,244.44 350.5,244.44 351.0,244.43 351.5,244.42 352.0,244.41 352.5,244.40 353.0,244.39 353.5,244.38 354.0,244.37 354.5,244.36 355.0,244.36 355.5,244.35 356.0,244.34 356.5,244.33 357.0,244.32 357.5,244.31 358.0,244.30 358.5,244.21 359.0,244.10 359.5,243.98 360.0,243.87 360.5,243.76 361.0,243.65 361.5,243.48 362.0,243.29 362.5,243.09 363.0,242.89 363.5,242.70 364.0,242.50 364.5,242.30 365.0,242.11 365.5,241.91 366.0,241.71 366.5,241.52 367.0,241.22 367.5,240.78 368.0,240.33 368.5,239.88 369.0,239.44 369.5,238.99 370.0,238.54 370.5,238.10 371.0,237.65 371.5,237.20 372.0,236.76 372.5,236.24 373.0,235.41 373.5,234.59 374.0,233.76 374.5,232.94 375.0,232.12 375.5,231.29 376.0,229.81 376.5,227.34 377.0,224.87 377.5,222.70 378.0,221.70 378.5,220.70 379.0,220.56 379.5,220.63 380.0,220.70 380.5,220.82 381.0,220.93 381.5,221.05 382.0,221.16 382.5,221.28 383.0,221.30 383.5,221.30 384.0,221.30 384.5,221.30 385.0,221.30 385.5,221.30 386.0,221.50 386.5,222.00 387.0,222.50 387.5,223.00 388.0,223.50 388.5,224.00 389.0,224.50 389.5,225.00 390.0,225.28 390.5,224.66 391.0,224.04 391.5,223.42 392.0,222.80 392.5,222.18 393.0,221.57 393.5,220.95 394.0,220.95 394.5,221.38 395.0,221.80 395.5,222.22 396.0,222.64 396.5,223.06 397.0,223.49 397.5,223.91 398.0,224.33 398.5,224.57 399.0,224.69 399.5,224.80 400.0,224.92 400.5,225.04 401.0,225.15 401.5,225.32 402.0,225.52 402.5,225.73 403.0,225.93 403.5,226.13 404.0,226.34 404.5,226.54 405.0,226.62 405.5,226.23 406.0,225.83 406.5,225.44 407.0,225.04 407.5,224.65 408.0,224.25 408.5,223.86 409.0,223.63 409.5,223.51 410.0,223.39 410.5,223.27 411.0,223.14 411.5,223.02 412.0,223.44 412.5,224.00 413.0,228.47 413.5,232.94 414.0,237.41 414.5,239.32 415.0,240.61 415.5,241.89 416.0,242.46 416.5,242.55 417.0,242.64 417.5,242.73 418.0,242.83 418.5,242.92 419.0,243.01 419.5,243.11 420.0,243.20 420.5,243.20 421.0,243.20 421.5,243.21 422.0,243.21 422.5,243.21 423.0,243.22 423.5,243.22 424.0,243.22 424.5,243.22 425.0,243.22 425.5,243.23 426.0,243.23 426.5,243.23 427.0,243.23 427.5,243.24 428.0,243.24 428.5,243.24 429.0,243.25 429.5,243.25 430.0,243.25 430.5,243.25 431.0,243.25 431.5,243.26 432.0,243.26 432.5,243.26 433.0,243.27 433.5,243.27 434.0,243.27 434.5,243.27 435.0,243.28 435.5,243.28 436.0,243.28 436.5,243.28 437.0,243.28 437.5,243.29 438.0,243.29 438.5,243.29 439.0,243.30 439.5,243.30 440.0,243.30 440.5,238.63 441.0,233.26 441.5,227.70 442.0,222.14 442.5,217.55 443.0,216.78 443.5,216.02 444.0,215.25 444.5,212.95 445.0,210.25 445.5,207.56 446.0,204.87 446.5,202.18 447.0,199.98 447.5,198.11 448.0,196.24 448.5,194.36 449.0,192.49 449.5,190.62 450.0,190.44 450.5,192.80 451.0,195.16 451.5,197.51 452.0,199.75 452.5,201.49 453.0,203.23 453.5,204.98 454.0,206.72 454.5,208.46 455.0,210.21 455.5,211.80 456.0,212.80 456.5,213.80 457.0,214.80 457.5,215.80 458.0,216.80 458.5,217.80 459.0,218.70 459.5,219.18 460.0,219.67 460.5,220.15 461.0,220.64 461.5,221.13 462.0,221.61 462.5,222.25 463.0,223.49 463.5,224.73 464.0,225.98 464.5,227.22 465.0,228.46 465.5,229.71 466.0,230.80 466.5,231.30 467.0,231.80 467.5,232.30 468.0,232.80 468.5,233.30 469.0,233.80 469.5,234.25 470.0,234.50 470.5,234.75 471.0,235.00 471.5,235.25 472.0,235.50 472.5,235.45 473.0,235.40 473.5,235.36 474.0,235.31 474.5,235.26 475.0,235.21 475.5,235.17 476.0,235.12 476.5,234.89 477.0,234.55 477.5,234.21 478.0,233.86 478.5,233.52 479.0,233.18 479.5,232.83 480.0,232.49 480.5,232.14 481.0,231.80 481.5,231.98 482.0,232.15 482.5,232.33 483.0,232.51 483.5,232.69 484.0,232.86 484.5,233.04 485.0,233.22 485.5,233.39 486.0,233.53 486.5,233.61 487.0,233.70 487.5,233.78 488.0,233.86 488.5,233.94 489.0,234.02 489.5,234.10 490.0,234.19 490.5,234.27 491.0,234.75 491.5,235.50 492.0,236.25 492.5,236.70 493.0,236.70 493.5,236.70 494.0,236.70 494.5,236.70 495.0,236.85 495.5,237.09 496.0,237.33 496.5,237.57 497.0,237.82 497.5,238.06 498.0,238.30 498.5,239.27 499.0,240.24 499.5,241.21 500.0,242.18 500.5,243.14 501.0,244.11 501.5,244.49 502.0,244.48 502.5,244.47 503.0,244.45 503.5,244.44 504.0,244.43 504.5,244.41 505.0,244.40 505.5,244.39 506.0,244.37 506.5,244.36 507.0,244.35 507.5,244.33 508.0,244.32 508.5,244.31 509.0,244.29 509.5,244.28 510.0,244.27 510.5,244.25 511.0,244.24 511.5,244.23 512.0,244.21 512.5,244.20 513.0,244.19 513.5,244.17 514.0,244.16 514.5,244.15 515.0,244.13 515.5,244.12 516.0,244.11 516.5,244.09 517.0,244.08 517.5,244.07 518.0,244.05 518.5,244.04 519.0,244.03 519.5,244.01 520.0,244.00 520.5,243.94 521.0,243.88 521.5,243.82 522.0,243.76 522.5,243.70 523.0,243.64 523.5,243.58 524.0,243.52 524.5,243.46 525.0,243.40 525.5,243.37 526.0,243.34 526.5,243.30 527.0,243.27 527.5,243.24 528.0,243.21 528.5,243.18 529.0,243.14 529.5,243.11 530.0,243.08 530.5,243.05 531.0,243.01 531.5,242.98 532.0,242.95 532.5,242.92 533.0,242.89 533.5,242.85 534.0,242.82 534.5,242.79 535.0,242.76 535.5,242.72 536.0,242.69 536.5,242.66 537.0,242.63 537.5,242.60 538.0,242.56 538.5,242.53 539.0,242.50 539.5,242.49 540.0,242.47 540.5,242.46 541.0,242.45 541.5,242.43 542.0,242.42 542.5,242.41 543.0,242.40 543.5,242.38 544.0,242.37 544.5,242.36 545.0,242.34 545.5,242.33 546.0,242.32 546.5,242.30 547.0,242.29 547.5,242.28 548.0,242.27 548.5,242.25 549.0,242.24 549.5,242.23 550.0,242.21 550.5,242.20 551.0,241.79 551.5,241.37 552.0,240.96 552.5,240.54 553.0,240.13 553.5,239.71 554.0,239.30 554.5,238.88 555.0,238.19 555.5,237.43 556.0,236.67 556.5,235.91 557.0,235.16 557.5,234.29 558.0,233.27 558.5,232.26 559.0,231.24 559.5,230.22 560.0,229.20 560.5,228.72 561.0,228.24 561.5,227.75 562.0,227.27 562.5,226.79 563.0,226.20 563.5,225.44 564.0,224.68 564.5,223.92 565.0,223.16 565.5,222.40 566.0,220.11 566.5,217.83 567.0,215.54 567.5,213.26 568.0,211.42 568.5,209.70 569.0,207.97 569.5,206.25 570.0,206.70 570.5,207.70 571.0,208.70 571.5,213.59 572.0,218.49 572.5,223.02 573.0,226.09 573.5,229.17 574.0,232.24 574.5,234.90 575.0,235.87 575.5,236.85 576.0,237.82 576.5,238.80 577.0,238.60 577.5,238.40 578.0,238.20 578.5,238.00 579.0,237.80 579.5,237.60 580.0,237.40 580.5,237.28 581.0,237.16 581.5,237.05 582.0,236.88 582.5,236.69 583.0,236.50 583.5,236.31 584.0,236.11 584.5,235.92 585.0,235.73 585.5,235.53 586.0,235.34 586.5,235.15 587.0,234.95 587.5,234.87 588.0,235.20 588.5,235.54 589.0,235.88 589.5,236.22 590.0,236.55 590.5,236.89 591.0,237.23 591.5,237.57 592.0,237.85 592.5,238.10 593.0,238.35 593.5,238.60 594.0,238.85 594.5,239.10 595.0,239.35 595.5,239.60 596.0,239.86 596.5,240.16 597.0,240.47 597.5,240.77 598.0,241.07 598.5,241.37 599.0,241.68 599.5,241.98 600.0,242.28 600.5,242.59 601.0,242.89 601.5,243.19 602.0,243.49 602.5,243.80 603.0,244.10 603.5,244.10 604.0,244.09 604.5,244.09 605.0,244.08 605.5,244.08 606.0,244.07 606.5,244.07 607.0,244.07 607.5,244.06 608.0,244.06 608.5,244.05 609.0,244.05 609.5,244.05 610.0,244.04 610.5,244.04 611.0,244.03 611.5,244.03 612.0,244.03 612.5,244.02 613.0,244.02 613.5,244.01 614.0,244.01 614.5,244.00 615.0,244.00 615.5,243.95 616.0,243.90 616.5,243.85 617.0,243.80 617.5,243.75 618.0,243.70 618.5,243.65 619.0,243.60 619.5,243.55 620.0,243.50 620.5,243.55 621.0,243.60 621.5,243.65 622.0,243.70 622.5,243.75 623.0,243.80 623.5,243.85 624.0,243.90 624.5,243.95 625.0,244.00 625.5,244.05 626.0,244.10 626.5,244.15 627.0,244.20 627.5,244.25 628.0,244.30 628.5,244.35 629.0,244.40 629.5,244.45 630.0,244.50 630.5,244.50 631.0,244.50 631.5,244.50 632.0,244.50 632.5,244.50 633.0,244.50 633.5,244.50 634.0,244.50 634.5,244.50 635.0,244.50 635.5,244.50 636.0,244.50 636.5,244.50 637.0,244.50 637.5,244.50 638.0,244.50 638.5,244.50 639.0,244.50 639.5,244.50 640.0,244.50 640.5,244.50 641.0,244.50 641.5,244.50 642.0,244.50 642.5,244.50 643.0,244.50 643.5,244.50 644.0,244.50 644.5,244.50 645.0,244.50 645.5,244.50 646.0,244.50 646.5,244.50 647.0,244.50 647.5,244.50 648.0,244.50 648.5,244.50 649.0,244.50 649.5,244.50 650.0,244.50 650.5,244.50 651.0,244.50 651.5,244.50 652.0,244.50 652.5,244.50 653.0,244.50 653.5,244.50 654.0,244.50 654.5,244.50 655.0,244.50 655.5,244.50 656.0,244.50 656.5,244.50 657.0,244.50 657.5,244.50 658.0,244.50 658.5,244.50 659.0,244.50 659.5,244.50 660.0,244.50 660.5,244.50 661.0,244.50 661.5,244.50 662.0,244.50 662.5,244.50 663.0,244.50 663.5,244.50 664.0,244.50 664.5,244.50 665.0,244.50 665.5,244.50 666.0,244.50 666.5,244.50 667.0,244.50 667.5,244.50 668.0,244.50 668.5,244.50 669.0,244.50 669.5,244.50 670.0,244.50 670.5,244.50 670.6,244.50 L670.6,245.5 Z"/>
</g>
<g stroke="#000" stroke-width="1.1">
<line x1="73.6" y1="245.5" x2="78.5" y2="245.5"/><line x1="73.6" y1="216.5" x2="78.5" y2="216.5"/><line x1="73.6" y1="187.5" x2="78.5" y2="187.5"/><line x1="73.6" y1="159.5" x2="78.5" y2="159.5"/><line x1="73.6" y1="130.5" x2="78.5" y2="130.5"/><line x1="73.6" y1="101.5" x2="78.5" y2="101.5"/><line x1="73.6" y1="72.5" x2="78.5" y2="72.5"/><line x1="73.6" y1="44.5" x2="78.5" y2="44.5"/>
<line x1="124.5" y1="255.5" x2="124.5" y2="260.4"/><line x1="179.5" y1="255.5" x2="179.5" y2="260.4"/><line x1="234.5" y1="255.5" x2="234.5" y2="260.4"/><line x1="288.5" y1="255.5" x2="288.5" y2="260.4"/><line x1="343.5" y1="255.5" x2="343.5" y2="260.4"/><line x1="398.5" y1="255.5" x2="398.5" y2="260.4"/><line x1="453.5" y1="255.5" x2="453.5" y2="260.4"/><line x1="507.5" y1="255.5" x2="507.5" y2="260.4"/><line x1="562.5" y1="255.5" x2="562.5" y2="260.4"/><line x1="617.5" y1="255.5" x2="617.5" y2="260.4"/><line x1="672.5" y1="255.5" x2="672.5" y2="260.4"/>
</g>
<g fill="#000">
<text x="68.0" y="251.1" text-anchor="end" class="tk" textLength="8.84" lengthAdjust="spacingAndGlyphs">0</text><text x="68.0" y="222.1" text-anchor="end" class="tk" textLength="17.68" lengthAdjust="spacingAndGlyphs">20</text><text x="68.0" y="193.1" text-anchor="end" class="tk" textLength="17.68" lengthAdjust="spacingAndGlyphs">40</text><text x="68.0" y="165.1" text-anchor="end" class="tk" textLength="17.68" lengthAdjust="spacingAndGlyphs">60</text><text x="68.0" y="136.1" text-anchor="end" class="tk" textLength="17.68" lengthAdjust="spacingAndGlyphs">80</text><text x="68.0" y="107.1" text-anchor="end" class="tk" textLength="26.52" lengthAdjust="spacingAndGlyphs">100</text><text x="68.0" y="78.1" text-anchor="end" class="tk" textLength="26.52" lengthAdjust="spacingAndGlyphs">120</text><text x="68.0" y="50.1" text-anchor="end" class="tk" textLength="26.52" lengthAdjust="spacingAndGlyphs">140</text>
<text class="xt" text-anchor="end" transform="translate(120.97,275.10) rotate(-30)" x="0" y="0" textLength="88.00" lengthAdjust="spacingAndGlyphs">02-Aug-2022</text><text class="xt" text-anchor="end" transform="translate(175.75,275.10) rotate(-30)" x="0" y="0" textLength="88.00" lengthAdjust="spacingAndGlyphs">05-Aug-2022</text><text class="xt" text-anchor="end" transform="translate(230.53,275.10) rotate(-30)" x="0" y="0" textLength="88.00" lengthAdjust="spacingAndGlyphs">08-Aug-2022</text><text class="xt" text-anchor="end" transform="translate(285.31,275.10) rotate(-30)" x="0" y="0" textLength="88.00" lengthAdjust="spacingAndGlyphs">11-Aug-2022</text><text class="xt" text-anchor="end" transform="translate(340.09,275.10) rotate(-30)" x="0" y="0" textLength="88.00" lengthAdjust="spacingAndGlyphs">14-Aug-2022</text><text class="xt" text-anchor="end" transform="translate(394.87,275.10) rotate(-30)" x="0" y="0" textLength="88.00" lengthAdjust="spacingAndGlyphs">17-Aug-2022</text><text class="xt" text-anchor="end" transform="translate(449.65,275.10) rotate(-30)" x="0" y="0" textLength="88.00" lengthAdjust="spacingAndGlyphs">20-Aug-2022</text><text class="xt" text-anchor="end" transform="translate(504.43,275.10) rotate(-30)" x="0" y="0" textLength="88.00" lengthAdjust="spacingAndGlyphs">23-Aug-2022</text><text class="xt" text-anchor="end" transform="translate(559.21,275.10) rotate(-30)" x="0" y="0" textLength="88.00" lengthAdjust="spacingAndGlyphs">26-Aug-2022</text><text class="xt" text-anchor="end" transform="translate(613.99,275.10) rotate(-30)" x="0" y="0" textLength="88.00" lengthAdjust="spacingAndGlyphs">29-Aug-2022</text><text class="xt" text-anchor="end" transform="translate(668.77,275.10) rotate(-30)" x="0" y="0" textLength="87.16" lengthAdjust="spacingAndGlyphs">01-Sep-2022</text>
</g>
<rect x="78.5" y="30.5" width="620.0" height="225.0" fill="none" stroke="#000" stroke-width="1.1"/>
<text x="387.4" y="21.8" text-anchor="middle" style="font-size:16.67px" textLength="343.0" lengthAdjust="spacingAndGlyphs">Source contribution to BC concentrations</text>
<text transform="translate(27.8,142.8) rotate(-90)" text-anchor="middle" style="font-size:19.4px" textLength="258.7" lengthAdjust="spacingAndGlyphs">BC concentration (ng m<tspan dy="-8" dx="1" style="font-size:13.6px">−3</tspan><tspan dy="8" dx="3">)</tspan></text>
<rect x="78.50" y="345.5" width="76.50" height="46.70" fill="#c62a3a"/><rect x="155.00" y="345.5" width="77.50" height="46.70" fill="#3a7db5"/><rect x="232.50" y="345.5" width="77.50" height="46.70" fill="#6e8272"/><rect x="310.00" y="345.5" width="77.50" height="46.70" fill="#c96656"/><rect x="387.50" y="345.5" width="77.50" height="46.70" fill="#e6d12e"/><rect x="465.00" y="345.5" width="77.50" height="46.70" fill="#f383bf"/><rect x="542.50" y="345.5" width="77.50" height="46.70" fill="#9370db"/><rect x="620.00" y="345.5" width="77.50" height="46.70" fill="#000000"/><text class="tk" x="116.2" y="372.0" text-anchor="middle" fill="#000" textLength="33.61" lengthAdjust="spacingAndGlyphs">DOM</text><text class="tk" x="193.8" y="372.0" text-anchor="middle" fill="#000" textLength="27.95" lengthAdjust="spacingAndGlyphs">ENE</text><text class="tk" x="271.2" y="372.0" text-anchor="middle" fill="#000" textLength="25.38" lengthAdjust="spacingAndGlyphs">FLR</text><text class="tk" x="348.8" y="372.0" text-anchor="middle" fill="#000" textLength="25.18" lengthAdjust="spacingAndGlyphs">IND</text><text class="tk" x="426.2" y="372.0" text-anchor="middle" fill="#000" textLength="27.64" lengthAdjust="spacingAndGlyphs">SHP</text><text class="tk" x="503.8" y="372.0" text-anchor="middle" fill="#000" textLength="31.04" lengthAdjust="spacingAndGlyphs">WST</text><text class="tk" x="581.2" y="372.0" text-anchor="middle" fill="#000" textLength="27.64" lengthAdjust="spacingAndGlyphs">TRA</text><text class="tk" x="658.8" y="372.0" text-anchor="middle" fill="#fff" textLength="19.06" lengthAdjust="spacingAndGlyphs">BB</text><rect x="78.5" y="345.5" width="620.0" height="46.69999999999999" fill="none" stroke="#000" stroke-width="1.1"/><line x1="78.00" y1="392.2" x2="78.00" y2="397.4" stroke="#000" stroke-width="1.1"/><line x1="155.50" y1="392.2" x2="155.50" y2="397.4" stroke="#000" stroke-width="1.1"/><line x1="233.00" y1="392.2" x2="233.00" y2="397.4" stroke="#000" stroke-width="1.1"/><line x1="310.50" y1="392.2" x2="310.50" y2="397.4" stroke="#000" stroke-width="1.1"/><line x1="388.00" y1="392.2" x2="388.00" y2="397.4" stroke="#000" stroke-width="1.1"/><line x1="465.50" y1="392.2" x2="465.50" y2="397.4" stroke="#000" stroke-width="1.1"/><line x1="543.00" y1="392.2" x2="543.00" y2="397.4" stroke="#000" stroke-width="1.1"/><line x1="620.50" y1="392.2" x2="620.50" y2="397.4" stroke="#000" stroke-width="1.1"/><line x1="698.00" y1="392.2" x2="698.00" y2="397.4" stroke="#000" stroke-width="1.1"/>
</svg>
</body></html>
